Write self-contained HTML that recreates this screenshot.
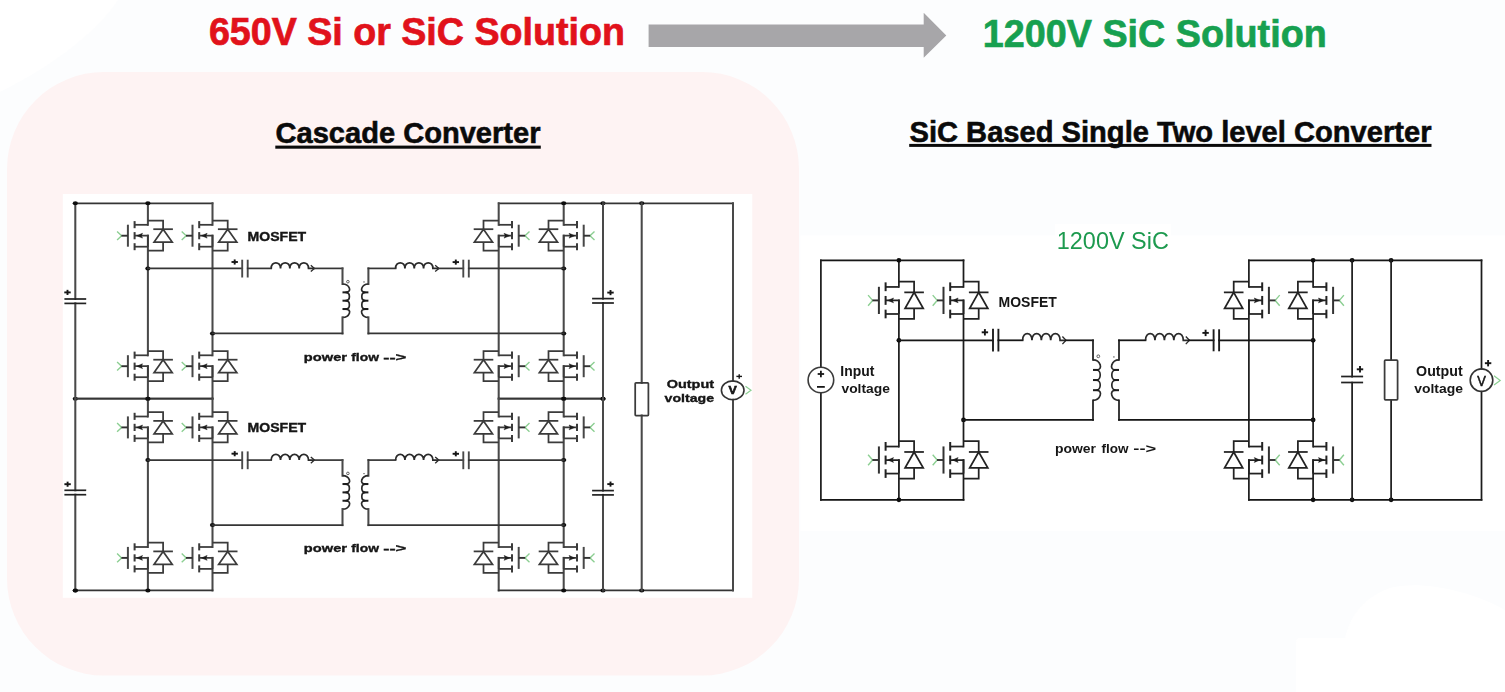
<!DOCTYPE html>
<html><head><meta charset="utf-8"><style>
html,body{margin:0;padding:0;background:#fcfdfe;}
svg{display:block;}
</style></head><body>
<svg width="1505" height="692" viewBox="0 0 1505 692">
<defs><filter id="soft" x="-2%" y="-2%" width="104%" height="104%"><feGaussianBlur stdDeviation="0.35"/></filter></defs>
<rect x="0" y="0" width="1505" height="692" fill="#fcfdfe"/>
<path d="M0,0 L118,0 C100,28 60,62 0,92 Z" fill="#ffffff"/>
<path d="M1296,692 L1296,642 Q1296,638 1300,638 L1345,638 C1350,620 1358,600 1390,588 C1420,580 1470,590 1505,610 L1505,692 Z" fill="#ffffff"/>
<rect x="7" y="72" width="792" height="603.5" rx="97" ry="97" fill="#fef3f3"/>
<rect x="62.8" y="194" width="689.5" height="403.8" fill="#ffffff"/>
<rect x="800.5" y="235.4" width="704.5" height="295.6" fill="#ffffff"/>
<rect x="1055" y="224" width="116" height="28" fill="#ffffff"/>
<text x="208.9" y="45.3" font-family="Liberation Sans" font-size="39.0" font-weight="bold" fill="#e1121b" textLength="416" lengthAdjust="spacingAndGlyphs" stroke="#e1121b" stroke-width="0.7">650V Si or SiC Solution</text>
<text x="982.8" y="47.2" font-family="Liberation Sans" font-size="39.2" font-weight="bold" fill="#17a050" textLength="344" lengthAdjust="spacingAndGlyphs" stroke="#17a050" stroke-width="0.7">1200V SiC Solution</text>
<path d="M648.6,24.5 L923.7,24.5 L923.7,12.8 L946.3,35.5 L923.7,57.8 L923.7,47 L648.6,47 Z" fill="#a7a6a9"/>
<text x="275.5" y="142.9" font-family="Liberation Sans" font-size="30.4" font-weight="bold" fill="#0a0a0a" stroke="#0a0a0a" stroke-width="0.6" textLength="265" lengthAdjust="spacingAndGlyphs">Cascade Converter</text>
<rect x="275.3" y="145.6" width="265.5" height="3.1" fill="#0a0a0a"/>
<text x="909.5" y="141.7" font-family="Liberation Sans" font-size="30.4" font-weight="bold" fill="#0a0a0a" stroke="#0a0a0a" stroke-width="0.6" textLength="522" lengthAdjust="spacingAndGlyphs">SiC Based Single Two level Converter</text>
<rect x="909.2" y="143.9" width="522.3" height="3.0" fill="#0a0a0a"/>
<g id="left" filter="url(#soft)">
<line x1="75.30" y1="203.30" x2="212.50" y2="203.30" stroke="#363636" stroke-width="1.7" stroke-linecap="square"/>
<line x1="498.70" y1="203.30" x2="603.00" y2="203.30" stroke="#363636" stroke-width="1.7" stroke-linecap="square"/>
<line x1="147.90" y1="203.30" x2="147.90" y2="224.80" stroke="#4a4a4a" stroke-width="2.05" stroke-linecap="square"/>
<line x1="147.90" y1="235.70" x2="147.90" y2="355.30" stroke="#4a4a4a" stroke-width="2.05" stroke-linecap="square"/>
<path d="M134.60,224.80 L147.90,224.80" stroke="#3a3a3a" stroke-width="1.75" fill="none" stroke-linejoin="miter"/>
<path d="M134.60,235.70 L147.90,235.70 L147.90,246.70" stroke="#3a3a3a" stroke-width="1.75" fill="none" stroke-linejoin="miter"/>
<path d="M134.60,246.70 L147.90,246.70" stroke="#3a3a3a" stroke-width="1.75" fill="none" stroke-linejoin="miter"/>
<path d="M136.90,235.70 L142.50,233.30 L141.30,235.70 L142.50,238.10 Z" fill="#1a1a1a" stroke="#1a1a1a" stroke-width="0.5" stroke-linejoin="round"/>
<path d="M134.60,221.10 L134.60,228.20" stroke="#3a3a3a" stroke-width="2.0" fill="none" stroke-linejoin="miter"/>
<path d="M134.60,232.10 L134.60,239.30" stroke="#3a3a3a" stroke-width="2.0" fill="none" stroke-linejoin="miter"/>
<path d="M134.60,243.20 L134.60,250.20" stroke="#3a3a3a" stroke-width="2.0" fill="none" stroke-linejoin="miter"/>
<path d="M127.90,224.70 L127.90,246.70" stroke="#474747" stroke-width="2.0" fill="none" stroke-linejoin="miter"/>
<path d="M117.10,231.40 L121.60,235.70 L117.10,240.00" stroke="#8ccf92" stroke-width="1.4" fill="none" stroke-linejoin="miter"/>
<path d="M121.40,235.70 L127.90,235.70" stroke="#333333" stroke-width="1.9" fill="none" stroke-linejoin="miter"/>
<path d="M147.90,220.50 L163.10,220.50 L163.10,229.20" stroke="#3a3a3a" stroke-width="1.75" fill="none" stroke-linejoin="miter"/>
<path d="M153.30,229.20 L172.90,229.20" stroke="#3a3a3a" stroke-width="1.75" fill="none" stroke-linejoin="miter"/>
<path d="M163.10,229.20 L154.10,242.10 L172.20,242.10 Z" stroke="#3a3a3a" stroke-width="1.75" fill="none" stroke-linejoin="miter"/>
<path d="M163.10,242.10 L163.10,250.70 L147.90,250.70" stroke="#3a3a3a" stroke-width="1.75" fill="none" stroke-linejoin="miter"/>
<line x1="212.50" y1="203.30" x2="212.50" y2="224.80" stroke="#4a4a4a" stroke-width="2.05" stroke-linecap="square"/>
<line x1="212.50" y1="235.70" x2="212.50" y2="355.30" stroke="#4a4a4a" stroke-width="2.05" stroke-linecap="square"/>
<path d="M199.20,224.80 L212.50,224.80" stroke="#3a3a3a" stroke-width="1.75" fill="none" stroke-linejoin="miter"/>
<path d="M199.20,235.70 L212.50,235.70 L212.50,246.70" stroke="#3a3a3a" stroke-width="1.75" fill="none" stroke-linejoin="miter"/>
<path d="M199.20,246.70 L212.50,246.70" stroke="#3a3a3a" stroke-width="1.75" fill="none" stroke-linejoin="miter"/>
<path d="M201.50,235.70 L207.10,233.30 L205.90,235.70 L207.10,238.10 Z" fill="#1a1a1a" stroke="#1a1a1a" stroke-width="0.5" stroke-linejoin="round"/>
<path d="M199.20,221.10 L199.20,228.20" stroke="#3a3a3a" stroke-width="2.0" fill="none" stroke-linejoin="miter"/>
<path d="M199.20,232.10 L199.20,239.30" stroke="#3a3a3a" stroke-width="2.0" fill="none" stroke-linejoin="miter"/>
<path d="M199.20,243.20 L199.20,250.20" stroke="#3a3a3a" stroke-width="2.0" fill="none" stroke-linejoin="miter"/>
<path d="M192.50,224.70 L192.50,246.70" stroke="#474747" stroke-width="2.0" fill="none" stroke-linejoin="miter"/>
<path d="M181.70,231.40 L186.20,235.70 L181.70,240.00" stroke="#8ccf92" stroke-width="1.4" fill="none" stroke-linejoin="miter"/>
<path d="M186.00,235.70 L192.50,235.70" stroke="#333333" stroke-width="1.9" fill="none" stroke-linejoin="miter"/>
<path d="M212.50,220.50 L227.70,220.50 L227.70,229.20" stroke="#3a3a3a" stroke-width="1.75" fill="none" stroke-linejoin="miter"/>
<path d="M217.90,229.20 L237.50,229.20" stroke="#3a3a3a" stroke-width="1.75" fill="none" stroke-linejoin="miter"/>
<path d="M227.70,229.20 L218.70,242.10 L236.80,242.10 Z" stroke="#3a3a3a" stroke-width="1.75" fill="none" stroke-linejoin="miter"/>
<path d="M227.70,242.10 L227.70,250.70 L212.50,250.70" stroke="#3a3a3a" stroke-width="1.75" fill="none" stroke-linejoin="miter"/>
<line x1="498.70" y1="203.30" x2="498.70" y2="224.80" stroke="#4a4a4a" stroke-width="2.05" stroke-linecap="square"/>
<line x1="498.70" y1="235.70" x2="498.70" y2="355.30" stroke="#4a4a4a" stroke-width="2.05" stroke-linecap="square"/>
<path d="M512.00,224.80 L498.70,224.80" stroke="#3a3a3a" stroke-width="1.75" fill="none" stroke-linejoin="miter"/>
<path d="M512.00,235.70 L498.70,235.70 L498.70,246.70" stroke="#3a3a3a" stroke-width="1.75" fill="none" stroke-linejoin="miter"/>
<path d="M512.00,246.70 L498.70,246.70" stroke="#3a3a3a" stroke-width="1.75" fill="none" stroke-linejoin="miter"/>
<path d="M509.70,235.70 L504.10,233.30 L505.30,235.70 L504.10,238.10 Z" fill="#1a1a1a" stroke="#1a1a1a" stroke-width="0.5" stroke-linejoin="round"/>
<path d="M512.00,221.10 L512.00,228.20" stroke="#3a3a3a" stroke-width="2.0" fill="none" stroke-linejoin="miter"/>
<path d="M512.00,232.10 L512.00,239.30" stroke="#3a3a3a" stroke-width="2.0" fill="none" stroke-linejoin="miter"/>
<path d="M512.00,243.20 L512.00,250.20" stroke="#3a3a3a" stroke-width="2.0" fill="none" stroke-linejoin="miter"/>
<path d="M518.70,224.70 L518.70,246.70" stroke="#474747" stroke-width="2.0" fill="none" stroke-linejoin="miter"/>
<path d="M529.50,231.40 L525.00,235.70 L529.50,240.00" stroke="#8ccf92" stroke-width="1.4" fill="none" stroke-linejoin="miter"/>
<path d="M525.20,235.70 L518.70,235.70" stroke="#333333" stroke-width="1.9" fill="none" stroke-linejoin="miter"/>
<path d="M498.70,220.50 L483.50,220.50 L483.50,229.20" stroke="#3a3a3a" stroke-width="1.75" fill="none" stroke-linejoin="miter"/>
<path d="M493.30,229.20 L473.70,229.20" stroke="#3a3a3a" stroke-width="1.75" fill="none" stroke-linejoin="miter"/>
<path d="M483.50,229.20 L492.50,242.10 L474.40,242.10 Z" stroke="#3a3a3a" stroke-width="1.75" fill="none" stroke-linejoin="miter"/>
<path d="M483.50,242.10 L483.50,250.70 L498.70,250.70" stroke="#3a3a3a" stroke-width="1.75" fill="none" stroke-linejoin="miter"/>
<line x1="563.70" y1="203.30" x2="563.70" y2="224.80" stroke="#4a4a4a" stroke-width="2.05" stroke-linecap="square"/>
<line x1="563.70" y1="235.70" x2="563.70" y2="355.30" stroke="#4a4a4a" stroke-width="2.05" stroke-linecap="square"/>
<path d="M577.00,224.80 L563.70,224.80" stroke="#3a3a3a" stroke-width="1.75" fill="none" stroke-linejoin="miter"/>
<path d="M577.00,235.70 L563.70,235.70 L563.70,246.70" stroke="#3a3a3a" stroke-width="1.75" fill="none" stroke-linejoin="miter"/>
<path d="M577.00,246.70 L563.70,246.70" stroke="#3a3a3a" stroke-width="1.75" fill="none" stroke-linejoin="miter"/>
<path d="M574.70,235.70 L569.10,233.30 L570.30,235.70 L569.10,238.10 Z" fill="#1a1a1a" stroke="#1a1a1a" stroke-width="0.5" stroke-linejoin="round"/>
<path d="M577.00,221.10 L577.00,228.20" stroke="#3a3a3a" stroke-width="2.0" fill="none" stroke-linejoin="miter"/>
<path d="M577.00,232.10 L577.00,239.30" stroke="#3a3a3a" stroke-width="2.0" fill="none" stroke-linejoin="miter"/>
<path d="M577.00,243.20 L577.00,250.20" stroke="#3a3a3a" stroke-width="2.0" fill="none" stroke-linejoin="miter"/>
<path d="M583.70,224.70 L583.70,246.70" stroke="#474747" stroke-width="2.0" fill="none" stroke-linejoin="miter"/>
<path d="M594.50,231.40 L590.00,235.70 L594.50,240.00" stroke="#8ccf92" stroke-width="1.4" fill="none" stroke-linejoin="miter"/>
<path d="M590.20,235.70 L583.70,235.70" stroke="#333333" stroke-width="1.9" fill="none" stroke-linejoin="miter"/>
<path d="M563.70,220.50 L548.50,220.50 L548.50,229.20" stroke="#3a3a3a" stroke-width="1.75" fill="none" stroke-linejoin="miter"/>
<path d="M558.30,229.20 L538.70,229.20" stroke="#3a3a3a" stroke-width="1.75" fill="none" stroke-linejoin="miter"/>
<path d="M548.50,229.20 L557.50,242.10 L539.40,242.10 Z" stroke="#3a3a3a" stroke-width="1.75" fill="none" stroke-linejoin="miter"/>
<path d="M548.50,242.10 L548.50,250.70 L563.70,250.70" stroke="#3a3a3a" stroke-width="1.75" fill="none" stroke-linejoin="miter"/>
<line x1="147.90" y1="366.20" x2="147.90" y2="398.70" stroke="#4a4a4a" stroke-width="2.05" stroke-linecap="square"/>
<path d="M134.60,355.30 L147.90,355.30" stroke="#3a3a3a" stroke-width="1.75" fill="none" stroke-linejoin="miter"/>
<path d="M134.60,366.20 L147.90,366.20 L147.90,377.20" stroke="#3a3a3a" stroke-width="1.75" fill="none" stroke-linejoin="miter"/>
<path d="M134.60,377.20 L147.90,377.20" stroke="#3a3a3a" stroke-width="1.75" fill="none" stroke-linejoin="miter"/>
<path d="M136.90,366.20 L142.50,363.80 L141.30,366.20 L142.50,368.60 Z" fill="#1a1a1a" stroke="#1a1a1a" stroke-width="0.5" stroke-linejoin="round"/>
<path d="M134.60,351.60 L134.60,358.70" stroke="#3a3a3a" stroke-width="2.0" fill="none" stroke-linejoin="miter"/>
<path d="M134.60,362.60 L134.60,369.80" stroke="#3a3a3a" stroke-width="2.0" fill="none" stroke-linejoin="miter"/>
<path d="M134.60,373.70 L134.60,380.70" stroke="#3a3a3a" stroke-width="2.0" fill="none" stroke-linejoin="miter"/>
<path d="M127.90,355.20 L127.90,377.20" stroke="#474747" stroke-width="2.0" fill="none" stroke-linejoin="miter"/>
<path d="M117.10,361.90 L121.60,366.20 L117.10,370.50" stroke="#8ccf92" stroke-width="1.4" fill="none" stroke-linejoin="miter"/>
<path d="M121.40,366.20 L127.90,366.20" stroke="#333333" stroke-width="1.9" fill="none" stroke-linejoin="miter"/>
<path d="M147.90,351.00 L163.10,351.00 L163.10,359.70" stroke="#3a3a3a" stroke-width="1.75" fill="none" stroke-linejoin="miter"/>
<path d="M153.30,359.70 L172.90,359.70" stroke="#3a3a3a" stroke-width="1.75" fill="none" stroke-linejoin="miter"/>
<path d="M163.10,359.70 L154.10,372.60 L172.20,372.60 Z" stroke="#3a3a3a" stroke-width="1.75" fill="none" stroke-linejoin="miter"/>
<path d="M163.10,372.60 L163.10,381.20 L147.90,381.20" stroke="#3a3a3a" stroke-width="1.75" fill="none" stroke-linejoin="miter"/>
<line x1="212.50" y1="366.20" x2="212.50" y2="398.70" stroke="#4a4a4a" stroke-width="2.05" stroke-linecap="square"/>
<path d="M199.20,355.30 L212.50,355.30" stroke="#3a3a3a" stroke-width="1.75" fill="none" stroke-linejoin="miter"/>
<path d="M199.20,366.20 L212.50,366.20 L212.50,377.20" stroke="#3a3a3a" stroke-width="1.75" fill="none" stroke-linejoin="miter"/>
<path d="M199.20,377.20 L212.50,377.20" stroke="#3a3a3a" stroke-width="1.75" fill="none" stroke-linejoin="miter"/>
<path d="M201.50,366.20 L207.10,363.80 L205.90,366.20 L207.10,368.60 Z" fill="#1a1a1a" stroke="#1a1a1a" stroke-width="0.5" stroke-linejoin="round"/>
<path d="M199.20,351.60 L199.20,358.70" stroke="#3a3a3a" stroke-width="2.0" fill="none" stroke-linejoin="miter"/>
<path d="M199.20,362.60 L199.20,369.80" stroke="#3a3a3a" stroke-width="2.0" fill="none" stroke-linejoin="miter"/>
<path d="M199.20,373.70 L199.20,380.70" stroke="#3a3a3a" stroke-width="2.0" fill="none" stroke-linejoin="miter"/>
<path d="M192.50,355.20 L192.50,377.20" stroke="#474747" stroke-width="2.0" fill="none" stroke-linejoin="miter"/>
<path d="M181.70,361.90 L186.20,366.20 L181.70,370.50" stroke="#8ccf92" stroke-width="1.4" fill="none" stroke-linejoin="miter"/>
<path d="M186.00,366.20 L192.50,366.20" stroke="#333333" stroke-width="1.9" fill="none" stroke-linejoin="miter"/>
<path d="M212.50,351.00 L227.70,351.00 L227.70,359.70" stroke="#3a3a3a" stroke-width="1.75" fill="none" stroke-linejoin="miter"/>
<path d="M217.90,359.70 L237.50,359.70" stroke="#3a3a3a" stroke-width="1.75" fill="none" stroke-linejoin="miter"/>
<path d="M227.70,359.70 L218.70,372.60 L236.80,372.60 Z" stroke="#3a3a3a" stroke-width="1.75" fill="none" stroke-linejoin="miter"/>
<path d="M227.70,372.60 L227.70,381.20 L212.50,381.20" stroke="#3a3a3a" stroke-width="1.75" fill="none" stroke-linejoin="miter"/>
<line x1="498.70" y1="366.20" x2="498.70" y2="398.70" stroke="#4a4a4a" stroke-width="2.05" stroke-linecap="square"/>
<path d="M512.00,355.30 L498.70,355.30" stroke="#3a3a3a" stroke-width="1.75" fill="none" stroke-linejoin="miter"/>
<path d="M512.00,366.20 L498.70,366.20 L498.70,377.20" stroke="#3a3a3a" stroke-width="1.75" fill="none" stroke-linejoin="miter"/>
<path d="M512.00,377.20 L498.70,377.20" stroke="#3a3a3a" stroke-width="1.75" fill="none" stroke-linejoin="miter"/>
<path d="M509.70,366.20 L504.10,363.80 L505.30,366.20 L504.10,368.60 Z" fill="#1a1a1a" stroke="#1a1a1a" stroke-width="0.5" stroke-linejoin="round"/>
<path d="M512.00,351.60 L512.00,358.70" stroke="#3a3a3a" stroke-width="2.0" fill="none" stroke-linejoin="miter"/>
<path d="M512.00,362.60 L512.00,369.80" stroke="#3a3a3a" stroke-width="2.0" fill="none" stroke-linejoin="miter"/>
<path d="M512.00,373.70 L512.00,380.70" stroke="#3a3a3a" stroke-width="2.0" fill="none" stroke-linejoin="miter"/>
<path d="M518.70,355.20 L518.70,377.20" stroke="#474747" stroke-width="2.0" fill="none" stroke-linejoin="miter"/>
<path d="M529.50,361.90 L525.00,366.20 L529.50,370.50" stroke="#8ccf92" stroke-width="1.4" fill="none" stroke-linejoin="miter"/>
<path d="M525.20,366.20 L518.70,366.20" stroke="#333333" stroke-width="1.9" fill="none" stroke-linejoin="miter"/>
<path d="M498.70,351.00 L483.50,351.00 L483.50,359.70" stroke="#3a3a3a" stroke-width="1.75" fill="none" stroke-linejoin="miter"/>
<path d="M493.30,359.70 L473.70,359.70" stroke="#3a3a3a" stroke-width="1.75" fill="none" stroke-linejoin="miter"/>
<path d="M483.50,359.70 L492.50,372.60 L474.40,372.60 Z" stroke="#3a3a3a" stroke-width="1.75" fill="none" stroke-linejoin="miter"/>
<path d="M483.50,372.60 L483.50,381.20 L498.70,381.20" stroke="#3a3a3a" stroke-width="1.75" fill="none" stroke-linejoin="miter"/>
<line x1="563.70" y1="366.20" x2="563.70" y2="398.70" stroke="#4a4a4a" stroke-width="2.05" stroke-linecap="square"/>
<path d="M577.00,355.30 L563.70,355.30" stroke="#3a3a3a" stroke-width="1.75" fill="none" stroke-linejoin="miter"/>
<path d="M577.00,366.20 L563.70,366.20 L563.70,377.20" stroke="#3a3a3a" stroke-width="1.75" fill="none" stroke-linejoin="miter"/>
<path d="M577.00,377.20 L563.70,377.20" stroke="#3a3a3a" stroke-width="1.75" fill="none" stroke-linejoin="miter"/>
<path d="M574.70,366.20 L569.10,363.80 L570.30,366.20 L569.10,368.60 Z" fill="#1a1a1a" stroke="#1a1a1a" stroke-width="0.5" stroke-linejoin="round"/>
<path d="M577.00,351.60 L577.00,358.70" stroke="#3a3a3a" stroke-width="2.0" fill="none" stroke-linejoin="miter"/>
<path d="M577.00,362.60 L577.00,369.80" stroke="#3a3a3a" stroke-width="2.0" fill="none" stroke-linejoin="miter"/>
<path d="M577.00,373.70 L577.00,380.70" stroke="#3a3a3a" stroke-width="2.0" fill="none" stroke-linejoin="miter"/>
<path d="M583.70,355.20 L583.70,377.20" stroke="#474747" stroke-width="2.0" fill="none" stroke-linejoin="miter"/>
<path d="M594.50,361.90 L590.00,366.20 L594.50,370.50" stroke="#8ccf92" stroke-width="1.4" fill="none" stroke-linejoin="miter"/>
<path d="M590.20,366.20 L583.70,366.20" stroke="#333333" stroke-width="1.9" fill="none" stroke-linejoin="miter"/>
<path d="M563.70,351.00 L548.50,351.00 L548.50,359.70" stroke="#3a3a3a" stroke-width="1.75" fill="none" stroke-linejoin="miter"/>
<path d="M558.30,359.70 L538.70,359.70" stroke="#3a3a3a" stroke-width="1.75" fill="none" stroke-linejoin="miter"/>
<path d="M548.50,359.70 L557.50,372.60 L539.40,372.60 Z" stroke="#3a3a3a" stroke-width="1.75" fill="none" stroke-linejoin="miter"/>
<path d="M548.50,372.60 L548.50,381.20 L563.70,381.20" stroke="#3a3a3a" stroke-width="1.75" fill="none" stroke-linejoin="miter"/>
<line x1="75.30" y1="398.70" x2="212.50" y2="398.70" stroke="#363636" stroke-width="1.7" stroke-linecap="square"/>
<line x1="498.70" y1="398.70" x2="603.00" y2="398.70" stroke="#363636" stroke-width="1.7" stroke-linecap="square"/>
<ellipse cx="147.90" cy="203.30" rx="2.6" ry="2.0" fill="#111111"/>
<ellipse cx="563.70" cy="203.30" rx="2.6" ry="2.0" fill="#111111"/>
<ellipse cx="603.00" cy="203.30" rx="2.6" ry="2.0" fill="#111111"/>
<ellipse cx="147.90" cy="268.40" rx="2.6" ry="2.0" fill="#111111"/>
<ellipse cx="212.50" cy="333.40" rx="2.6" ry="2.0" fill="#111111"/>
<ellipse cx="563.70" cy="268.40" rx="2.6" ry="2.0" fill="#111111"/>
<ellipse cx="563.70" cy="333.40" rx="2.6" ry="2.0" fill="#111111"/>
<ellipse cx="147.90" cy="398.70" rx="2.6" ry="2.0" fill="#111111"/>
<ellipse cx="563.70" cy="398.70" rx="2.6" ry="2.0" fill="#111111"/>
<ellipse cx="603.00" cy="398.70" rx="2.6" ry="2.0" fill="#111111"/>
<ellipse cx="75.30" cy="398.70" rx="2.6" ry="2.0" fill="#111111"/>
<line x1="147.90" y1="268.40" x2="242.20" y2="268.40" stroke="#363636" stroke-width="1.7" stroke-linecap="square"/>
<line x1="242.20" y1="259.70" x2="242.20" y2="277.50" stroke="#4a4a4a" stroke-width="1.9" stroke-linecap="butt"/>
<line x1="247.70" y1="259.70" x2="247.70" y2="277.50" stroke="#4a4a4a" stroke-width="1.9" stroke-linecap="butt"/>
<line x1="231.50" y1="262.00" x2="237.90" y2="262.00" stroke="#161616" stroke-width="1.9" stroke-linecap="butt"/>
<line x1="234.70" y1="259.44" x2="234.70" y2="264.56" stroke="#161616" stroke-width="1.9" stroke-linecap="butt"/>
<line x1="247.70" y1="268.40" x2="271.20" y2="268.40" stroke="#363636" stroke-width="1.7" stroke-linecap="square"/>
<path d="M271.20,268.40 C271.01,260.92 280.71,260.92 280.52,268.40 C280.34,260.92 290.04,260.92 289.85,268.40 C289.66,260.92 299.36,260.92 299.18,268.40 C298.99,260.92 308.69,260.92 308.50,268.40 L314.40,268.40" stroke="#2a2a2a" stroke-width="1.75" fill="none"/>
<path d="M310.80,265.30 L314.40,268.40 L310.80,271.50" stroke="#2a2a2a" stroke-width="1.3" fill="none" stroke-linejoin="miter"/>
<line x1="314.40" y1="268.40" x2="342.50" y2="268.40" stroke="#363636" stroke-width="1.7" stroke-linecap="square"/>
<line x1="342.50" y1="268.40" x2="342.50" y2="284.00" stroke="#4a4a4a" stroke-width="2.05" stroke-linecap="square"/>
<path d="M342.50,284.00 C349.70,284.00 352.70,292.35 345.50,292.35 C350.70,292.35 350.70,300.70 345.50,300.70 C350.70,300.70 350.70,309.05 345.50,309.05 C352.70,309.05 349.70,317.40 342.50,317.40" stroke="#2a2a2a" stroke-width="1.7" fill="none"/>
<line x1="343.50" y1="292.35" x2="346.90" y2="292.35" stroke="#1a1a1a" stroke-width="2.0" stroke-linecap="square"/>
<line x1="343.50" y1="300.70" x2="346.90" y2="300.70" stroke="#1a1a1a" stroke-width="2.0" stroke-linecap="square"/>
<line x1="343.50" y1="309.05" x2="346.90" y2="309.05" stroke="#1a1a1a" stroke-width="2.0" stroke-linecap="square"/>
<line x1="342.50" y1="317.40" x2="342.50" y2="333.40" stroke="#4a4a4a" stroke-width="2.05" stroke-linecap="square"/>
<line x1="212.50" y1="333.40" x2="342.50" y2="333.40" stroke="#363636" stroke-width="1.7" stroke-linecap="square"/>
<circle cx="347.9" cy="281.70" r="1.3" fill="none" stroke="#3a3a3a" stroke-width="0.8"/>
<line x1="368.40" y1="268.40" x2="368.40" y2="284.00" stroke="#4a4a4a" stroke-width="2.05" stroke-linecap="square"/>
<path d="M368.40,284.00 C361.60,284.00 358.60,292.35 365.40,292.35 C360.60,292.35 360.60,300.70 365.40,300.70 C360.60,300.70 360.60,309.05 365.40,309.05 C358.60,309.05 361.60,317.40 368.40,317.40" stroke="#2a2a2a" stroke-width="1.7" fill="none"/>
<line x1="367.40" y1="292.35" x2="364.00" y2="292.35" stroke="#1a1a1a" stroke-width="2.0" stroke-linecap="square"/>
<line x1="367.40" y1="300.70" x2="364.00" y2="300.70" stroke="#1a1a1a" stroke-width="2.0" stroke-linecap="square"/>
<line x1="367.40" y1="309.05" x2="364.00" y2="309.05" stroke="#1a1a1a" stroke-width="2.0" stroke-linecap="square"/>
<line x1="368.40" y1="317.40" x2="368.40" y2="333.40" stroke="#4a4a4a" stroke-width="2.05" stroke-linecap="square"/>
<line x1="368.40" y1="333.40" x2="563.70" y2="333.40" stroke="#363636" stroke-width="1.7" stroke-linecap="square"/>
<circle cx="364.00" cy="281.90" r="0.7" fill="#3a3a3a"/>
<line x1="368.40" y1="268.40" x2="395.60" y2="268.40" stroke="#363636" stroke-width="1.7" stroke-linecap="square"/>
<path d="M395.60,268.40 C395.41,260.92 405.11,260.92 404.93,268.40 C404.74,260.92 414.44,260.92 414.25,268.40 C414.06,260.92 423.76,260.92 423.57,268.40 C423.39,260.92 433.09,260.92 432.90,268.40 L438.80,268.40" stroke="#2a2a2a" stroke-width="1.75" fill="none"/>
<path d="M435.20,265.30 L438.80,268.40 L435.20,271.50" stroke="#2a2a2a" stroke-width="1.3" fill="none" stroke-linejoin="miter"/>
<line x1="438.80" y1="268.40" x2="463.30" y2="268.40" stroke="#363636" stroke-width="1.7" stroke-linecap="square"/>
<line x1="463.30" y1="259.70" x2="463.30" y2="277.50" stroke="#4a4a4a" stroke-width="1.9" stroke-linecap="butt"/>
<line x1="468.80" y1="259.70" x2="468.80" y2="277.50" stroke="#4a4a4a" stroke-width="1.9" stroke-linecap="butt"/>
<line x1="452.60" y1="262.10" x2="459.00" y2="262.10" stroke="#161616" stroke-width="1.9" stroke-linecap="butt"/>
<line x1="455.80" y1="259.54" x2="455.80" y2="264.66" stroke="#161616" stroke-width="1.9" stroke-linecap="butt"/>
<line x1="468.80" y1="268.40" x2="563.70" y2="268.40" stroke="#363636" stroke-width="1.7" stroke-linecap="square"/>
<line x1="75.30" y1="398.70" x2="212.50" y2="398.70" stroke="#363636" stroke-width="1.7" stroke-linecap="square"/>
<line x1="498.70" y1="398.70" x2="603.00" y2="398.70" stroke="#363636" stroke-width="1.7" stroke-linecap="square"/>
<line x1="147.90" y1="398.70" x2="147.90" y2="416.50" stroke="#4a4a4a" stroke-width="2.05" stroke-linecap="square"/>
<line x1="147.90" y1="427.40" x2="147.90" y2="547.00" stroke="#4a4a4a" stroke-width="2.05" stroke-linecap="square"/>
<path d="M134.60,416.50 L147.90,416.50" stroke="#3a3a3a" stroke-width="1.75" fill="none" stroke-linejoin="miter"/>
<path d="M134.60,427.40 L147.90,427.40 L147.90,438.40" stroke="#3a3a3a" stroke-width="1.75" fill="none" stroke-linejoin="miter"/>
<path d="M134.60,438.40 L147.90,438.40" stroke="#3a3a3a" stroke-width="1.75" fill="none" stroke-linejoin="miter"/>
<path d="M136.90,427.40 L142.50,425.00 L141.30,427.40 L142.50,429.80 Z" fill="#1a1a1a" stroke="#1a1a1a" stroke-width="0.5" stroke-linejoin="round"/>
<path d="M134.60,412.80 L134.60,419.90" stroke="#3a3a3a" stroke-width="2.0" fill="none" stroke-linejoin="miter"/>
<path d="M134.60,423.80 L134.60,431.00" stroke="#3a3a3a" stroke-width="2.0" fill="none" stroke-linejoin="miter"/>
<path d="M134.60,434.90 L134.60,441.90" stroke="#3a3a3a" stroke-width="2.0" fill="none" stroke-linejoin="miter"/>
<path d="M127.90,416.40 L127.90,438.40" stroke="#474747" stroke-width="2.0" fill="none" stroke-linejoin="miter"/>
<path d="M117.10,423.10 L121.60,427.40 L117.10,431.70" stroke="#8ccf92" stroke-width="1.4" fill="none" stroke-linejoin="miter"/>
<path d="M121.40,427.40 L127.90,427.40" stroke="#333333" stroke-width="1.9" fill="none" stroke-linejoin="miter"/>
<path d="M147.90,412.20 L163.10,412.20 L163.10,420.90" stroke="#3a3a3a" stroke-width="1.75" fill="none" stroke-linejoin="miter"/>
<path d="M153.30,420.90 L172.90,420.90" stroke="#3a3a3a" stroke-width="1.75" fill="none" stroke-linejoin="miter"/>
<path d="M163.10,420.90 L154.10,433.80 L172.20,433.80 Z" stroke="#3a3a3a" stroke-width="1.75" fill="none" stroke-linejoin="miter"/>
<path d="M163.10,433.80 L163.10,442.40 L147.90,442.40" stroke="#3a3a3a" stroke-width="1.75" fill="none" stroke-linejoin="miter"/>
<line x1="212.50" y1="398.70" x2="212.50" y2="416.50" stroke="#4a4a4a" stroke-width="2.05" stroke-linecap="square"/>
<line x1="212.50" y1="427.40" x2="212.50" y2="547.00" stroke="#4a4a4a" stroke-width="2.05" stroke-linecap="square"/>
<path d="M199.20,416.50 L212.50,416.50" stroke="#3a3a3a" stroke-width="1.75" fill="none" stroke-linejoin="miter"/>
<path d="M199.20,427.40 L212.50,427.40 L212.50,438.40" stroke="#3a3a3a" stroke-width="1.75" fill="none" stroke-linejoin="miter"/>
<path d="M199.20,438.40 L212.50,438.40" stroke="#3a3a3a" stroke-width="1.75" fill="none" stroke-linejoin="miter"/>
<path d="M201.50,427.40 L207.10,425.00 L205.90,427.40 L207.10,429.80 Z" fill="#1a1a1a" stroke="#1a1a1a" stroke-width="0.5" stroke-linejoin="round"/>
<path d="M199.20,412.80 L199.20,419.90" stroke="#3a3a3a" stroke-width="2.0" fill="none" stroke-linejoin="miter"/>
<path d="M199.20,423.80 L199.20,431.00" stroke="#3a3a3a" stroke-width="2.0" fill="none" stroke-linejoin="miter"/>
<path d="M199.20,434.90 L199.20,441.90" stroke="#3a3a3a" stroke-width="2.0" fill="none" stroke-linejoin="miter"/>
<path d="M192.50,416.40 L192.50,438.40" stroke="#474747" stroke-width="2.0" fill="none" stroke-linejoin="miter"/>
<path d="M181.70,423.10 L186.20,427.40 L181.70,431.70" stroke="#8ccf92" stroke-width="1.4" fill="none" stroke-linejoin="miter"/>
<path d="M186.00,427.40 L192.50,427.40" stroke="#333333" stroke-width="1.9" fill="none" stroke-linejoin="miter"/>
<path d="M212.50,412.20 L227.70,412.20 L227.70,420.90" stroke="#3a3a3a" stroke-width="1.75" fill="none" stroke-linejoin="miter"/>
<path d="M217.90,420.90 L237.50,420.90" stroke="#3a3a3a" stroke-width="1.75" fill="none" stroke-linejoin="miter"/>
<path d="M227.70,420.90 L218.70,433.80 L236.80,433.80 Z" stroke="#3a3a3a" stroke-width="1.75" fill="none" stroke-linejoin="miter"/>
<path d="M227.70,433.80 L227.70,442.40 L212.50,442.40" stroke="#3a3a3a" stroke-width="1.75" fill="none" stroke-linejoin="miter"/>
<line x1="498.70" y1="398.70" x2="498.70" y2="416.50" stroke="#4a4a4a" stroke-width="2.05" stroke-linecap="square"/>
<line x1="498.70" y1="427.40" x2="498.70" y2="547.00" stroke="#4a4a4a" stroke-width="2.05" stroke-linecap="square"/>
<path d="M512.00,416.50 L498.70,416.50" stroke="#3a3a3a" stroke-width="1.75" fill="none" stroke-linejoin="miter"/>
<path d="M512.00,427.40 L498.70,427.40 L498.70,438.40" stroke="#3a3a3a" stroke-width="1.75" fill="none" stroke-linejoin="miter"/>
<path d="M512.00,438.40 L498.70,438.40" stroke="#3a3a3a" stroke-width="1.75" fill="none" stroke-linejoin="miter"/>
<path d="M509.70,427.40 L504.10,425.00 L505.30,427.40 L504.10,429.80 Z" fill="#1a1a1a" stroke="#1a1a1a" stroke-width="0.5" stroke-linejoin="round"/>
<path d="M512.00,412.80 L512.00,419.90" stroke="#3a3a3a" stroke-width="2.0" fill="none" stroke-linejoin="miter"/>
<path d="M512.00,423.80 L512.00,431.00" stroke="#3a3a3a" stroke-width="2.0" fill="none" stroke-linejoin="miter"/>
<path d="M512.00,434.90 L512.00,441.90" stroke="#3a3a3a" stroke-width="2.0" fill="none" stroke-linejoin="miter"/>
<path d="M518.70,416.40 L518.70,438.40" stroke="#474747" stroke-width="2.0" fill="none" stroke-linejoin="miter"/>
<path d="M529.50,423.10 L525.00,427.40 L529.50,431.70" stroke="#8ccf92" stroke-width="1.4" fill="none" stroke-linejoin="miter"/>
<path d="M525.20,427.40 L518.70,427.40" stroke="#333333" stroke-width="1.9" fill="none" stroke-linejoin="miter"/>
<path d="M498.70,412.20 L483.50,412.20 L483.50,420.90" stroke="#3a3a3a" stroke-width="1.75" fill="none" stroke-linejoin="miter"/>
<path d="M493.30,420.90 L473.70,420.90" stroke="#3a3a3a" stroke-width="1.75" fill="none" stroke-linejoin="miter"/>
<path d="M483.50,420.90 L492.50,433.80 L474.40,433.80 Z" stroke="#3a3a3a" stroke-width="1.75" fill="none" stroke-linejoin="miter"/>
<path d="M483.50,433.80 L483.50,442.40 L498.70,442.40" stroke="#3a3a3a" stroke-width="1.75" fill="none" stroke-linejoin="miter"/>
<line x1="563.70" y1="398.70" x2="563.70" y2="416.50" stroke="#4a4a4a" stroke-width="2.05" stroke-linecap="square"/>
<line x1="563.70" y1="427.40" x2="563.70" y2="547.00" stroke="#4a4a4a" stroke-width="2.05" stroke-linecap="square"/>
<path d="M577.00,416.50 L563.70,416.50" stroke="#3a3a3a" stroke-width="1.75" fill="none" stroke-linejoin="miter"/>
<path d="M577.00,427.40 L563.70,427.40 L563.70,438.40" stroke="#3a3a3a" stroke-width="1.75" fill="none" stroke-linejoin="miter"/>
<path d="M577.00,438.40 L563.70,438.40" stroke="#3a3a3a" stroke-width="1.75" fill="none" stroke-linejoin="miter"/>
<path d="M574.70,427.40 L569.10,425.00 L570.30,427.40 L569.10,429.80 Z" fill="#1a1a1a" stroke="#1a1a1a" stroke-width="0.5" stroke-linejoin="round"/>
<path d="M577.00,412.80 L577.00,419.90" stroke="#3a3a3a" stroke-width="2.0" fill="none" stroke-linejoin="miter"/>
<path d="M577.00,423.80 L577.00,431.00" stroke="#3a3a3a" stroke-width="2.0" fill="none" stroke-linejoin="miter"/>
<path d="M577.00,434.90 L577.00,441.90" stroke="#3a3a3a" stroke-width="2.0" fill="none" stroke-linejoin="miter"/>
<path d="M583.70,416.40 L583.70,438.40" stroke="#474747" stroke-width="2.0" fill="none" stroke-linejoin="miter"/>
<path d="M594.50,423.10 L590.00,427.40 L594.50,431.70" stroke="#8ccf92" stroke-width="1.4" fill="none" stroke-linejoin="miter"/>
<path d="M590.20,427.40 L583.70,427.40" stroke="#333333" stroke-width="1.9" fill="none" stroke-linejoin="miter"/>
<path d="M563.70,412.20 L548.50,412.20 L548.50,420.90" stroke="#3a3a3a" stroke-width="1.75" fill="none" stroke-linejoin="miter"/>
<path d="M558.30,420.90 L538.70,420.90" stroke="#3a3a3a" stroke-width="1.75" fill="none" stroke-linejoin="miter"/>
<path d="M548.50,420.90 L557.50,433.80 L539.40,433.80 Z" stroke="#3a3a3a" stroke-width="1.75" fill="none" stroke-linejoin="miter"/>
<path d="M548.50,433.80 L548.50,442.40 L563.70,442.40" stroke="#3a3a3a" stroke-width="1.75" fill="none" stroke-linejoin="miter"/>
<line x1="147.90" y1="557.90" x2="147.90" y2="590.40" stroke="#4a4a4a" stroke-width="2.05" stroke-linecap="square"/>
<path d="M134.60,547.00 L147.90,547.00" stroke="#3a3a3a" stroke-width="1.75" fill="none" stroke-linejoin="miter"/>
<path d="M134.60,557.90 L147.90,557.90 L147.90,568.90" stroke="#3a3a3a" stroke-width="1.75" fill="none" stroke-linejoin="miter"/>
<path d="M134.60,568.90 L147.90,568.90" stroke="#3a3a3a" stroke-width="1.75" fill="none" stroke-linejoin="miter"/>
<path d="M136.90,557.90 L142.50,555.50 L141.30,557.90 L142.50,560.30 Z" fill="#1a1a1a" stroke="#1a1a1a" stroke-width="0.5" stroke-linejoin="round"/>
<path d="M134.60,543.30 L134.60,550.40" stroke="#3a3a3a" stroke-width="2.0" fill="none" stroke-linejoin="miter"/>
<path d="M134.60,554.30 L134.60,561.50" stroke="#3a3a3a" stroke-width="2.0" fill="none" stroke-linejoin="miter"/>
<path d="M134.60,565.40 L134.60,572.40" stroke="#3a3a3a" stroke-width="2.0" fill="none" stroke-linejoin="miter"/>
<path d="M127.90,546.90 L127.90,568.90" stroke="#474747" stroke-width="2.0" fill="none" stroke-linejoin="miter"/>
<path d="M117.10,553.60 L121.60,557.90 L117.10,562.20" stroke="#8ccf92" stroke-width="1.4" fill="none" stroke-linejoin="miter"/>
<path d="M121.40,557.90 L127.90,557.90" stroke="#333333" stroke-width="1.9" fill="none" stroke-linejoin="miter"/>
<path d="M147.90,542.70 L163.10,542.70 L163.10,551.40" stroke="#3a3a3a" stroke-width="1.75" fill="none" stroke-linejoin="miter"/>
<path d="M153.30,551.40 L172.90,551.40" stroke="#3a3a3a" stroke-width="1.75" fill="none" stroke-linejoin="miter"/>
<path d="M163.10,551.40 L154.10,564.30 L172.20,564.30 Z" stroke="#3a3a3a" stroke-width="1.75" fill="none" stroke-linejoin="miter"/>
<path d="M163.10,564.30 L163.10,572.90 L147.90,572.90" stroke="#3a3a3a" stroke-width="1.75" fill="none" stroke-linejoin="miter"/>
<line x1="212.50" y1="557.90" x2="212.50" y2="590.40" stroke="#4a4a4a" stroke-width="2.05" stroke-linecap="square"/>
<path d="M199.20,547.00 L212.50,547.00" stroke="#3a3a3a" stroke-width="1.75" fill="none" stroke-linejoin="miter"/>
<path d="M199.20,557.90 L212.50,557.90 L212.50,568.90" stroke="#3a3a3a" stroke-width="1.75" fill="none" stroke-linejoin="miter"/>
<path d="M199.20,568.90 L212.50,568.90" stroke="#3a3a3a" stroke-width="1.75" fill="none" stroke-linejoin="miter"/>
<path d="M201.50,557.90 L207.10,555.50 L205.90,557.90 L207.10,560.30 Z" fill="#1a1a1a" stroke="#1a1a1a" stroke-width="0.5" stroke-linejoin="round"/>
<path d="M199.20,543.30 L199.20,550.40" stroke="#3a3a3a" stroke-width="2.0" fill="none" stroke-linejoin="miter"/>
<path d="M199.20,554.30 L199.20,561.50" stroke="#3a3a3a" stroke-width="2.0" fill="none" stroke-linejoin="miter"/>
<path d="M199.20,565.40 L199.20,572.40" stroke="#3a3a3a" stroke-width="2.0" fill="none" stroke-linejoin="miter"/>
<path d="M192.50,546.90 L192.50,568.90" stroke="#474747" stroke-width="2.0" fill="none" stroke-linejoin="miter"/>
<path d="M181.70,553.60 L186.20,557.90 L181.70,562.20" stroke="#8ccf92" stroke-width="1.4" fill="none" stroke-linejoin="miter"/>
<path d="M186.00,557.90 L192.50,557.90" stroke="#333333" stroke-width="1.9" fill="none" stroke-linejoin="miter"/>
<path d="M212.50,542.70 L227.70,542.70 L227.70,551.40" stroke="#3a3a3a" stroke-width="1.75" fill="none" stroke-linejoin="miter"/>
<path d="M217.90,551.40 L237.50,551.40" stroke="#3a3a3a" stroke-width="1.75" fill="none" stroke-linejoin="miter"/>
<path d="M227.70,551.40 L218.70,564.30 L236.80,564.30 Z" stroke="#3a3a3a" stroke-width="1.75" fill="none" stroke-linejoin="miter"/>
<path d="M227.70,564.30 L227.70,572.90 L212.50,572.90" stroke="#3a3a3a" stroke-width="1.75" fill="none" stroke-linejoin="miter"/>
<line x1="498.70" y1="557.90" x2="498.70" y2="590.40" stroke="#4a4a4a" stroke-width="2.05" stroke-linecap="square"/>
<path d="M512.00,547.00 L498.70,547.00" stroke="#3a3a3a" stroke-width="1.75" fill="none" stroke-linejoin="miter"/>
<path d="M512.00,557.90 L498.70,557.90 L498.70,568.90" stroke="#3a3a3a" stroke-width="1.75" fill="none" stroke-linejoin="miter"/>
<path d="M512.00,568.90 L498.70,568.90" stroke="#3a3a3a" stroke-width="1.75" fill="none" stroke-linejoin="miter"/>
<path d="M509.70,557.90 L504.10,555.50 L505.30,557.90 L504.10,560.30 Z" fill="#1a1a1a" stroke="#1a1a1a" stroke-width="0.5" stroke-linejoin="round"/>
<path d="M512.00,543.30 L512.00,550.40" stroke="#3a3a3a" stroke-width="2.0" fill="none" stroke-linejoin="miter"/>
<path d="M512.00,554.30 L512.00,561.50" stroke="#3a3a3a" stroke-width="2.0" fill="none" stroke-linejoin="miter"/>
<path d="M512.00,565.40 L512.00,572.40" stroke="#3a3a3a" stroke-width="2.0" fill="none" stroke-linejoin="miter"/>
<path d="M518.70,546.90 L518.70,568.90" stroke="#474747" stroke-width="2.0" fill="none" stroke-linejoin="miter"/>
<path d="M529.50,553.60 L525.00,557.90 L529.50,562.20" stroke="#8ccf92" stroke-width="1.4" fill="none" stroke-linejoin="miter"/>
<path d="M525.20,557.90 L518.70,557.90" stroke="#333333" stroke-width="1.9" fill="none" stroke-linejoin="miter"/>
<path d="M498.70,542.70 L483.50,542.70 L483.50,551.40" stroke="#3a3a3a" stroke-width="1.75" fill="none" stroke-linejoin="miter"/>
<path d="M493.30,551.40 L473.70,551.40" stroke="#3a3a3a" stroke-width="1.75" fill="none" stroke-linejoin="miter"/>
<path d="M483.50,551.40 L492.50,564.30 L474.40,564.30 Z" stroke="#3a3a3a" stroke-width="1.75" fill="none" stroke-linejoin="miter"/>
<path d="M483.50,564.30 L483.50,572.90 L498.70,572.90" stroke="#3a3a3a" stroke-width="1.75" fill="none" stroke-linejoin="miter"/>
<line x1="563.70" y1="557.90" x2="563.70" y2="590.40" stroke="#4a4a4a" stroke-width="2.05" stroke-linecap="square"/>
<path d="M577.00,547.00 L563.70,547.00" stroke="#3a3a3a" stroke-width="1.75" fill="none" stroke-linejoin="miter"/>
<path d="M577.00,557.90 L563.70,557.90 L563.70,568.90" stroke="#3a3a3a" stroke-width="1.75" fill="none" stroke-linejoin="miter"/>
<path d="M577.00,568.90 L563.70,568.90" stroke="#3a3a3a" stroke-width="1.75" fill="none" stroke-linejoin="miter"/>
<path d="M574.70,557.90 L569.10,555.50 L570.30,557.90 L569.10,560.30 Z" fill="#1a1a1a" stroke="#1a1a1a" stroke-width="0.5" stroke-linejoin="round"/>
<path d="M577.00,543.30 L577.00,550.40" stroke="#3a3a3a" stroke-width="2.0" fill="none" stroke-linejoin="miter"/>
<path d="M577.00,554.30 L577.00,561.50" stroke="#3a3a3a" stroke-width="2.0" fill="none" stroke-linejoin="miter"/>
<path d="M577.00,565.40 L577.00,572.40" stroke="#3a3a3a" stroke-width="2.0" fill="none" stroke-linejoin="miter"/>
<path d="M583.70,546.90 L583.70,568.90" stroke="#474747" stroke-width="2.0" fill="none" stroke-linejoin="miter"/>
<path d="M594.50,553.60 L590.00,557.90 L594.50,562.20" stroke="#8ccf92" stroke-width="1.4" fill="none" stroke-linejoin="miter"/>
<path d="M590.20,557.90 L583.70,557.90" stroke="#333333" stroke-width="1.9" fill="none" stroke-linejoin="miter"/>
<path d="M563.70,542.70 L548.50,542.70 L548.50,551.40" stroke="#3a3a3a" stroke-width="1.75" fill="none" stroke-linejoin="miter"/>
<path d="M558.30,551.40 L538.70,551.40" stroke="#3a3a3a" stroke-width="1.75" fill="none" stroke-linejoin="miter"/>
<path d="M548.50,551.40 L557.50,564.30 L539.40,564.30 Z" stroke="#3a3a3a" stroke-width="1.75" fill="none" stroke-linejoin="miter"/>
<path d="M548.50,564.30 L548.50,572.90 L563.70,572.90" stroke="#3a3a3a" stroke-width="1.75" fill="none" stroke-linejoin="miter"/>
<line x1="75.30" y1="590.40" x2="212.50" y2="590.40" stroke="#363636" stroke-width="1.7" stroke-linecap="square"/>
<line x1="498.70" y1="590.40" x2="603.00" y2="590.40" stroke="#363636" stroke-width="1.7" stroke-linecap="square"/>
<ellipse cx="147.90" cy="398.70" rx="2.6" ry="2.0" fill="#111111"/>
<ellipse cx="563.70" cy="398.70" rx="2.6" ry="2.0" fill="#111111"/>
<ellipse cx="603.00" cy="398.70" rx="2.6" ry="2.0" fill="#111111"/>
<ellipse cx="147.90" cy="460.10" rx="2.6" ry="2.0" fill="#111111"/>
<ellipse cx="212.50" cy="525.10" rx="2.6" ry="2.0" fill="#111111"/>
<ellipse cx="563.70" cy="460.10" rx="2.6" ry="2.0" fill="#111111"/>
<ellipse cx="563.70" cy="525.10" rx="2.6" ry="2.0" fill="#111111"/>
<ellipse cx="147.90" cy="590.40" rx="2.6" ry="2.0" fill="#111111"/>
<ellipse cx="563.70" cy="590.40" rx="2.6" ry="2.0" fill="#111111"/>
<ellipse cx="603.00" cy="590.40" rx="2.6" ry="2.0" fill="#111111"/>
<ellipse cx="75.30" cy="590.40" rx="2.6" ry="2.0" fill="#111111"/>
<line x1="147.90" y1="460.10" x2="242.20" y2="460.10" stroke="#363636" stroke-width="1.7" stroke-linecap="square"/>
<line x1="242.20" y1="451.40" x2="242.20" y2="469.20" stroke="#4a4a4a" stroke-width="1.9" stroke-linecap="butt"/>
<line x1="247.70" y1="451.40" x2="247.70" y2="469.20" stroke="#4a4a4a" stroke-width="1.9" stroke-linecap="butt"/>
<line x1="231.50" y1="453.70" x2="237.90" y2="453.70" stroke="#161616" stroke-width="1.9" stroke-linecap="butt"/>
<line x1="234.70" y1="451.14" x2="234.70" y2="456.26" stroke="#161616" stroke-width="1.9" stroke-linecap="butt"/>
<line x1="247.70" y1="460.10" x2="271.20" y2="460.10" stroke="#363636" stroke-width="1.7" stroke-linecap="square"/>
<path d="M271.20,460.10 C271.01,452.62 280.71,452.62 280.52,460.10 C280.34,452.62 290.04,452.62 289.85,460.10 C289.66,452.62 299.36,452.62 299.18,460.10 C298.99,452.62 308.69,452.62 308.50,460.10 L314.40,460.10" stroke="#2a2a2a" stroke-width="1.75" fill="none"/>
<path d="M310.80,457.00 L314.40,460.10 L310.80,463.20" stroke="#2a2a2a" stroke-width="1.3" fill="none" stroke-linejoin="miter"/>
<line x1="314.40" y1="460.10" x2="342.50" y2="460.10" stroke="#363636" stroke-width="1.7" stroke-linecap="square"/>
<line x1="342.50" y1="460.10" x2="342.50" y2="475.70" stroke="#4a4a4a" stroke-width="2.05" stroke-linecap="square"/>
<path d="M342.50,475.70 C349.70,475.70 352.70,484.05 345.50,484.05 C350.70,484.05 350.70,492.40 345.50,492.40 C350.70,492.40 350.70,500.75 345.50,500.75 C352.70,500.75 349.70,509.10 342.50,509.10" stroke="#2a2a2a" stroke-width="1.7" fill="none"/>
<line x1="343.50" y1="484.05" x2="346.90" y2="484.05" stroke="#1a1a1a" stroke-width="2.0" stroke-linecap="square"/>
<line x1="343.50" y1="492.40" x2="346.90" y2="492.40" stroke="#1a1a1a" stroke-width="2.0" stroke-linecap="square"/>
<line x1="343.50" y1="500.75" x2="346.90" y2="500.75" stroke="#1a1a1a" stroke-width="2.0" stroke-linecap="square"/>
<line x1="342.50" y1="509.10" x2="342.50" y2="525.10" stroke="#4a4a4a" stroke-width="2.05" stroke-linecap="square"/>
<line x1="212.50" y1="525.10" x2="342.50" y2="525.10" stroke="#363636" stroke-width="1.7" stroke-linecap="square"/>
<circle cx="347.9" cy="473.40" r="1.3" fill="none" stroke="#3a3a3a" stroke-width="0.8"/>
<line x1="368.40" y1="460.10" x2="368.40" y2="475.70" stroke="#4a4a4a" stroke-width="2.05" stroke-linecap="square"/>
<path d="M368.40,475.70 C361.60,475.70 358.60,484.05 365.40,484.05 C360.60,484.05 360.60,492.40 365.40,492.40 C360.60,492.40 360.60,500.75 365.40,500.75 C358.60,500.75 361.60,509.10 368.40,509.10" stroke="#2a2a2a" stroke-width="1.7" fill="none"/>
<line x1="367.40" y1="484.05" x2="364.00" y2="484.05" stroke="#1a1a1a" stroke-width="2.0" stroke-linecap="square"/>
<line x1="367.40" y1="492.40" x2="364.00" y2="492.40" stroke="#1a1a1a" stroke-width="2.0" stroke-linecap="square"/>
<line x1="367.40" y1="500.75" x2="364.00" y2="500.75" stroke="#1a1a1a" stroke-width="2.0" stroke-linecap="square"/>
<line x1="368.40" y1="509.10" x2="368.40" y2="525.10" stroke="#4a4a4a" stroke-width="2.05" stroke-linecap="square"/>
<line x1="368.40" y1="525.10" x2="563.70" y2="525.10" stroke="#363636" stroke-width="1.7" stroke-linecap="square"/>
<circle cx="364.00" cy="473.60" r="0.7" fill="#3a3a3a"/>
<line x1="368.40" y1="460.10" x2="395.60" y2="460.10" stroke="#363636" stroke-width="1.7" stroke-linecap="square"/>
<path d="M395.60,460.10 C395.41,452.62 405.11,452.62 404.93,460.10 C404.74,452.62 414.44,452.62 414.25,460.10 C414.06,452.62 423.76,452.62 423.57,460.10 C423.39,452.62 433.09,452.62 432.90,460.10 L438.80,460.10" stroke="#2a2a2a" stroke-width="1.75" fill="none"/>
<path d="M435.20,457.00 L438.80,460.10 L435.20,463.20" stroke="#2a2a2a" stroke-width="1.3" fill="none" stroke-linejoin="miter"/>
<line x1="438.80" y1="460.10" x2="463.30" y2="460.10" stroke="#363636" stroke-width="1.7" stroke-linecap="square"/>
<line x1="463.30" y1="451.40" x2="463.30" y2="469.20" stroke="#4a4a4a" stroke-width="1.9" stroke-linecap="butt"/>
<line x1="468.80" y1="451.40" x2="468.80" y2="469.20" stroke="#4a4a4a" stroke-width="1.9" stroke-linecap="butt"/>
<line x1="452.60" y1="453.80" x2="459.00" y2="453.80" stroke="#161616" stroke-width="1.9" stroke-linecap="butt"/>
<line x1="455.80" y1="451.24" x2="455.80" y2="456.36" stroke="#161616" stroke-width="1.9" stroke-linecap="butt"/>
<line x1="468.80" y1="460.10" x2="563.70" y2="460.10" stroke="#363636" stroke-width="1.7" stroke-linecap="square"/>
<line x1="75.30" y1="203.30" x2="75.30" y2="299.00" stroke="#4a4a4a" stroke-width="2.05" stroke-linecap="square"/>
<line x1="75.30" y1="303.40" x2="75.30" y2="490.30" stroke="#4a4a4a" stroke-width="2.05" stroke-linecap="square"/>
<line x1="75.30" y1="494.70" x2="75.30" y2="590.40" stroke="#4a4a4a" stroke-width="2.05" stroke-linecap="square"/>
<line x1="64.40" y1="299.00" x2="86.20" y2="299.00" stroke="#222" stroke-width="1.7" stroke-linecap="butt"/>
<line x1="64.40" y1="303.40" x2="86.20" y2="303.40" stroke="#222" stroke-width="1.7" stroke-linecap="butt"/>
<line x1="64.30" y1="292.40" x2="70.70" y2="292.40" stroke="#161616" stroke-width="1.9" stroke-linecap="butt"/>
<line x1="67.50" y1="289.84" x2="67.50" y2="294.96" stroke="#161616" stroke-width="1.9" stroke-linecap="butt"/>
<line x1="64.40" y1="490.30" x2="86.20" y2="490.30" stroke="#222" stroke-width="1.7" stroke-linecap="butt"/>
<line x1="64.40" y1="494.70" x2="86.20" y2="494.70" stroke="#222" stroke-width="1.7" stroke-linecap="butt"/>
<line x1="64.40" y1="484.20" x2="70.80" y2="484.20" stroke="#161616" stroke-width="1.9" stroke-linecap="butt"/>
<line x1="67.60" y1="481.64" x2="67.60" y2="486.76" stroke="#161616" stroke-width="1.9" stroke-linecap="butt"/>
<ellipse cx="75.30" cy="203.30" rx="2.6" ry="2.0" fill="#111111"/>
<ellipse cx="75.30" cy="590.40" rx="2.6" ry="2.0" fill="#111111"/>
<line x1="603.00" y1="203.30" x2="603.00" y2="298.60" stroke="#4a4a4a" stroke-width="2.05" stroke-linecap="square"/>
<line x1="603.00" y1="303.00" x2="603.00" y2="490.60" stroke="#4a4a4a" stroke-width="2.05" stroke-linecap="square"/>
<line x1="603.00" y1="494.90" x2="603.00" y2="590.40" stroke="#4a4a4a" stroke-width="2.05" stroke-linecap="square"/>
<line x1="592.10" y1="298.60" x2="613.90" y2="298.60" stroke="#222" stroke-width="1.7" stroke-linecap="butt"/>
<line x1="592.10" y1="303.00" x2="613.90" y2="303.00" stroke="#222" stroke-width="1.7" stroke-linecap="butt"/>
<line x1="607.30" y1="292.60" x2="613.70" y2="292.60" stroke="#161616" stroke-width="1.9" stroke-linecap="butt"/>
<line x1="610.50" y1="290.04" x2="610.50" y2="295.16" stroke="#161616" stroke-width="1.9" stroke-linecap="butt"/>
<line x1="592.10" y1="490.60" x2="613.90" y2="490.60" stroke="#222" stroke-width="1.7" stroke-linecap="butt"/>
<line x1="592.10" y1="494.90" x2="613.90" y2="494.90" stroke="#222" stroke-width="1.7" stroke-linecap="butt"/>
<line x1="607.30" y1="484.10" x2="613.70" y2="484.10" stroke="#161616" stroke-width="1.9" stroke-linecap="butt"/>
<line x1="610.50" y1="481.54" x2="610.50" y2="486.66" stroke="#161616" stroke-width="1.9" stroke-linecap="butt"/>
<line x1="603.00" y1="203.30" x2="733.00" y2="203.30" stroke="#363636" stroke-width="1.7" stroke-linecap="square"/>
<line x1="603.00" y1="590.40" x2="733.00" y2="590.40" stroke="#363636" stroke-width="1.7" stroke-linecap="square"/>
<ellipse cx="641.70" cy="203.30" rx="2.6" ry="2.0" fill="#111111"/>
<ellipse cx="641.70" cy="590.40" rx="2.6" ry="2.0" fill="#111111"/>
<line x1="641.70" y1="203.30" x2="641.70" y2="382.80" stroke="#4a4a4a" stroke-width="2.05" stroke-linecap="square"/>
<line x1="641.70" y1="415.50" x2="641.70" y2="590.40" stroke="#4a4a4a" stroke-width="2.05" stroke-linecap="square"/>
<rect x="635.2" y="382.8" width="13.2" height="32.7" fill="none" stroke="#3a3a3a" stroke-width="1.75" rx="0.8"/>
<line x1="733.00" y1="203.30" x2="733.00" y2="380.90" stroke="#4a4a4a" stroke-width="2.05" stroke-linecap="square"/>
<line x1="733.00" y1="399.70" x2="733.00" y2="590.40" stroke="#4a4a4a" stroke-width="2.05" stroke-linecap="square"/>
<ellipse cx="732.7" cy="390.3" rx="11.3" ry="9.4" fill="none" stroke="#333" stroke-width="1.6"/>
<text x="728.52" y="394.4" font-family="Liberation Sans" font-size="11.19" font-weight="bold" fill="#141414" textLength="8.27" lengthAdjust="spacingAndGlyphs" stroke="#141414" stroke-width="0.6">V</text>
<line x1="736.40" y1="376.40" x2="742.00" y2="376.40" stroke="#161616" stroke-width="1.4" stroke-linecap="butt"/>
<line x1="739.20" y1="374.16" x2="739.20" y2="378.64" stroke="#161616" stroke-width="1.4" stroke-linecap="butt"/>
<path d="M745.50,386.30 L751.00,390.30 L745.50,394.30" stroke="#8ccf92" stroke-width="1.2" fill="none" stroke-linejoin="miter"/>
<text x="666.71" y="387.6" font-family="Liberation Sans" font-size="11.6" font-weight="bold" fill="#141414" textLength="47.37" lengthAdjust="spacingAndGlyphs" stroke="#141414" stroke-width="0.35">Output</text>
<text x="664.64" y="401.7" font-family="Liberation Sans" font-size="11.59" font-weight="bold" fill="#141414" textLength="49.44" lengthAdjust="spacingAndGlyphs" stroke="#141414" stroke-width="0.35">voltage</text>
<text x="247.56" y="240.6" font-family="Liberation Sans" font-size="11.89" font-weight="bold" fill="#141414" textLength="58.59" lengthAdjust="spacingAndGlyphs" stroke="#141414" stroke-width="0.35">MOSFET</text>
<text x="247.56" y="432.3" font-family="Liberation Sans" font-size="11.89" font-weight="bold" fill="#141414" textLength="58.59" lengthAdjust="spacingAndGlyphs" stroke="#141414" stroke-width="0.35">MOSFET</text>
<text x="303.83" y="360.6" font-family="Liberation Sans" font-size="11.4" font-weight="bold" fill="#141414" textLength="43.19" lengthAdjust="spacingAndGlyphs" stroke="#141414" stroke-width="0.35">power</text>
<text x="351.26" y="360.6" font-family="Liberation Sans" font-size="11.4" font-weight="bold" fill="#141414" textLength="27.71" lengthAdjust="spacingAndGlyphs" stroke="#141414" stroke-width="0.35">flow</text>
<text x="383.38" y="360.6" font-family="Liberation Sans" font-size="11.4" font-weight="bold" fill="#141414" textLength="22.96" lengthAdjust="spacingAndGlyphs" stroke="#141414" stroke-width="0.35">--&gt;</text>
<text x="303.83" y="552.3" font-family="Liberation Sans" font-size="11.4" font-weight="bold" fill="#141414" textLength="43.19" lengthAdjust="spacingAndGlyphs" stroke="#141414" stroke-width="0.35">power</text>
<text x="351.26" y="552.3" font-family="Liberation Sans" font-size="11.4" font-weight="bold" fill="#141414" textLength="27.71" lengthAdjust="spacingAndGlyphs" stroke="#141414" stroke-width="0.35">flow</text>
<text x="383.38" y="552.3" font-family="Liberation Sans" font-size="11.4" font-weight="bold" fill="#141414" textLength="22.96" lengthAdjust="spacingAndGlyphs" stroke="#141414" stroke-width="0.35">--&gt;</text>
</g>
<g id="right" filter="url(#soft)">
<line x1="820.90" y1="260.30" x2="963.50" y2="260.30" stroke="#161616" stroke-width="1.75" stroke-linecap="square"/>
<line x1="1248.90" y1="260.30" x2="1481.50" y2="260.30" stroke="#161616" stroke-width="1.75" stroke-linecap="square"/>
<line x1="820.90" y1="499.80" x2="963.50" y2="499.80" stroke="#161616" stroke-width="1.75" stroke-linecap="square"/>
<line x1="1248.90" y1="499.80" x2="1481.50" y2="499.80" stroke="#161616" stroke-width="1.75" stroke-linecap="square"/>
<line x1="898.90" y1="260.30" x2="898.90" y2="286.94" stroke="#1e1e1e" stroke-width="1.75" stroke-linecap="square"/>
<line x1="898.90" y1="300.40" x2="898.90" y2="446.54" stroke="#1e1e1e" stroke-width="1.75" stroke-linecap="square"/>
<path d="M885.60,286.94 L898.90,286.94" stroke="#222222" stroke-width="1.75" fill="none" stroke-linejoin="miter"/>
<path d="M885.60,300.40 L898.90,300.40 L898.90,313.98" stroke="#222222" stroke-width="1.75" fill="none" stroke-linejoin="miter"/>
<path d="M885.60,313.98 L898.90,313.98" stroke="#222222" stroke-width="1.75" fill="none" stroke-linejoin="miter"/>
<path d="M887.90,300.40 L893.50,298.00 L892.30,300.40 L893.50,302.80 Z" fill="#1a1a1a" stroke="#1a1a1a" stroke-width="0.5" stroke-linejoin="round"/>
<path d="M885.60,282.37 L885.60,291.14" stroke="#222222" stroke-width="2.0" fill="none" stroke-linejoin="miter"/>
<path d="M885.60,295.95 L885.60,304.85" stroke="#222222" stroke-width="2.0" fill="none" stroke-linejoin="miter"/>
<path d="M885.60,309.66 L885.60,318.31" stroke="#222222" stroke-width="2.0" fill="none" stroke-linejoin="miter"/>
<path d="M878.90,286.81 L878.90,313.98" stroke="#333333" stroke-width="2.0" fill="none" stroke-linejoin="miter"/>
<path d="M868.10,295.09 L872.60,300.40 L868.10,305.71" stroke="#8ccf92" stroke-width="1.4" fill="none" stroke-linejoin="miter"/>
<path d="M872.40,300.40 L878.90,300.40" stroke="#333333" stroke-width="1.9" fill="none" stroke-linejoin="miter"/>
<path d="M898.90,281.63 L914.10,281.63 L914.10,292.37" stroke="#222222" stroke-width="1.75" fill="none" stroke-linejoin="miter"/>
<path d="M904.30,292.37 L923.90,292.37" stroke="#222222" stroke-width="1.75" fill="none" stroke-linejoin="miter"/>
<path d="M914.10,292.37 L905.10,308.30 L923.20,308.30 Z" stroke="#222222" stroke-width="1.75" fill="none" stroke-linejoin="miter"/>
<path d="M914.10,308.30 L914.10,318.92 L898.90,318.92" stroke="#222222" stroke-width="1.75" fill="none" stroke-linejoin="miter"/>
<line x1="898.90" y1="460.00" x2="898.90" y2="499.80" stroke="#1e1e1e" stroke-width="1.75" stroke-linecap="square"/>
<path d="M885.60,446.54 L898.90,446.54" stroke="#222222" stroke-width="1.75" fill="none" stroke-linejoin="miter"/>
<path d="M885.60,460.00 L898.90,460.00 L898.90,473.58" stroke="#222222" stroke-width="1.75" fill="none" stroke-linejoin="miter"/>
<path d="M885.60,473.58 L898.90,473.58" stroke="#222222" stroke-width="1.75" fill="none" stroke-linejoin="miter"/>
<path d="M887.90,460.00 L893.50,457.60 L892.30,460.00 L893.50,462.40 Z" fill="#1a1a1a" stroke="#1a1a1a" stroke-width="0.5" stroke-linejoin="round"/>
<path d="M885.60,441.97 L885.60,450.74" stroke="#222222" stroke-width="2.0" fill="none" stroke-linejoin="miter"/>
<path d="M885.60,455.55 L885.60,464.45" stroke="#222222" stroke-width="2.0" fill="none" stroke-linejoin="miter"/>
<path d="M885.60,469.26 L885.60,477.91" stroke="#222222" stroke-width="2.0" fill="none" stroke-linejoin="miter"/>
<path d="M878.90,446.42 L878.90,473.58" stroke="#333333" stroke-width="2.0" fill="none" stroke-linejoin="miter"/>
<path d="M868.10,454.69 L872.60,460.00 L868.10,465.31" stroke="#8ccf92" stroke-width="1.4" fill="none" stroke-linejoin="miter"/>
<path d="M872.40,460.00 L878.90,460.00" stroke="#333333" stroke-width="1.9" fill="none" stroke-linejoin="miter"/>
<path d="M898.90,441.23 L914.10,441.23 L914.10,451.97" stroke="#222222" stroke-width="1.75" fill="none" stroke-linejoin="miter"/>
<path d="M904.30,451.97 L923.90,451.97" stroke="#222222" stroke-width="1.75" fill="none" stroke-linejoin="miter"/>
<path d="M914.10,451.97 L905.10,467.90 L923.20,467.90 Z" stroke="#222222" stroke-width="1.75" fill="none" stroke-linejoin="miter"/>
<path d="M914.10,467.90 L914.10,478.52 L898.90,478.52" stroke="#222222" stroke-width="1.75" fill="none" stroke-linejoin="miter"/>
<line x1="963.50" y1="260.30" x2="963.50" y2="286.94" stroke="#1e1e1e" stroke-width="1.75" stroke-linecap="square"/>
<line x1="963.50" y1="300.40" x2="963.50" y2="446.54" stroke="#1e1e1e" stroke-width="1.75" stroke-linecap="square"/>
<path d="M950.20,286.94 L963.50,286.94" stroke="#222222" stroke-width="1.75" fill="none" stroke-linejoin="miter"/>
<path d="M950.20,300.40 L963.50,300.40 L963.50,313.98" stroke="#222222" stroke-width="1.75" fill="none" stroke-linejoin="miter"/>
<path d="M950.20,313.98 L963.50,313.98" stroke="#222222" stroke-width="1.75" fill="none" stroke-linejoin="miter"/>
<path d="M952.50,300.40 L958.10,298.00 L956.90,300.40 L958.10,302.80 Z" fill="#1a1a1a" stroke="#1a1a1a" stroke-width="0.5" stroke-linejoin="round"/>
<path d="M950.20,282.37 L950.20,291.14" stroke="#222222" stroke-width="2.0" fill="none" stroke-linejoin="miter"/>
<path d="M950.20,295.95 L950.20,304.85" stroke="#222222" stroke-width="2.0" fill="none" stroke-linejoin="miter"/>
<path d="M950.20,309.66 L950.20,318.31" stroke="#222222" stroke-width="2.0" fill="none" stroke-linejoin="miter"/>
<path d="M943.50,286.81 L943.50,313.98" stroke="#333333" stroke-width="2.0" fill="none" stroke-linejoin="miter"/>
<path d="M932.70,295.09 L937.20,300.40 L932.70,305.71" stroke="#8ccf92" stroke-width="1.4" fill="none" stroke-linejoin="miter"/>
<path d="M937.00,300.40 L943.50,300.40" stroke="#333333" stroke-width="1.9" fill="none" stroke-linejoin="miter"/>
<path d="M963.50,281.63 L978.70,281.63 L978.70,292.37" stroke="#222222" stroke-width="1.75" fill="none" stroke-linejoin="miter"/>
<path d="M968.90,292.37 L988.50,292.37" stroke="#222222" stroke-width="1.75" fill="none" stroke-linejoin="miter"/>
<path d="M978.70,292.37 L969.70,308.30 L987.80,308.30 Z" stroke="#222222" stroke-width="1.75" fill="none" stroke-linejoin="miter"/>
<path d="M978.70,308.30 L978.70,318.92 L963.50,318.92" stroke="#222222" stroke-width="1.75" fill="none" stroke-linejoin="miter"/>
<line x1="963.50" y1="460.00" x2="963.50" y2="499.80" stroke="#1e1e1e" stroke-width="1.75" stroke-linecap="square"/>
<path d="M950.20,446.54 L963.50,446.54" stroke="#222222" stroke-width="1.75" fill="none" stroke-linejoin="miter"/>
<path d="M950.20,460.00 L963.50,460.00 L963.50,473.58" stroke="#222222" stroke-width="1.75" fill="none" stroke-linejoin="miter"/>
<path d="M950.20,473.58 L963.50,473.58" stroke="#222222" stroke-width="1.75" fill="none" stroke-linejoin="miter"/>
<path d="M952.50,460.00 L958.10,457.60 L956.90,460.00 L958.10,462.40 Z" fill="#1a1a1a" stroke="#1a1a1a" stroke-width="0.5" stroke-linejoin="round"/>
<path d="M950.20,441.97 L950.20,450.74" stroke="#222222" stroke-width="2.0" fill="none" stroke-linejoin="miter"/>
<path d="M950.20,455.55 L950.20,464.45" stroke="#222222" stroke-width="2.0" fill="none" stroke-linejoin="miter"/>
<path d="M950.20,469.26 L950.20,477.91" stroke="#222222" stroke-width="2.0" fill="none" stroke-linejoin="miter"/>
<path d="M943.50,446.42 L943.50,473.58" stroke="#333333" stroke-width="2.0" fill="none" stroke-linejoin="miter"/>
<path d="M932.70,454.69 L937.20,460.00 L932.70,465.31" stroke="#8ccf92" stroke-width="1.4" fill="none" stroke-linejoin="miter"/>
<path d="M937.00,460.00 L943.50,460.00" stroke="#333333" stroke-width="1.9" fill="none" stroke-linejoin="miter"/>
<path d="M963.50,441.23 L978.70,441.23 L978.70,451.97" stroke="#222222" stroke-width="1.75" fill="none" stroke-linejoin="miter"/>
<path d="M968.90,451.97 L988.50,451.97" stroke="#222222" stroke-width="1.75" fill="none" stroke-linejoin="miter"/>
<path d="M978.70,451.97 L969.70,467.90 L987.80,467.90 Z" stroke="#222222" stroke-width="1.75" fill="none" stroke-linejoin="miter"/>
<path d="M978.70,467.90 L978.70,478.52 L963.50,478.52" stroke="#222222" stroke-width="1.75" fill="none" stroke-linejoin="miter"/>
<line x1="1248.90" y1="260.30" x2="1248.90" y2="286.94" stroke="#1e1e1e" stroke-width="1.75" stroke-linecap="square"/>
<line x1="1248.90" y1="300.40" x2="1248.90" y2="446.54" stroke="#1e1e1e" stroke-width="1.75" stroke-linecap="square"/>
<path d="M1262.20,286.94 L1248.90,286.94" stroke="#222222" stroke-width="1.75" fill="none" stroke-linejoin="miter"/>
<path d="M1262.20,300.40 L1248.90,300.40 L1248.90,313.98" stroke="#222222" stroke-width="1.75" fill="none" stroke-linejoin="miter"/>
<path d="M1262.20,313.98 L1248.90,313.98" stroke="#222222" stroke-width="1.75" fill="none" stroke-linejoin="miter"/>
<path d="M1259.90,300.40 L1254.30,298.00 L1255.50,300.40 L1254.30,302.80 Z" fill="#1a1a1a" stroke="#1a1a1a" stroke-width="0.5" stroke-linejoin="round"/>
<path d="M1262.20,282.37 L1262.20,291.14" stroke="#222222" stroke-width="2.0" fill="none" stroke-linejoin="miter"/>
<path d="M1262.20,295.95 L1262.20,304.85" stroke="#222222" stroke-width="2.0" fill="none" stroke-linejoin="miter"/>
<path d="M1262.20,309.66 L1262.20,318.31" stroke="#222222" stroke-width="2.0" fill="none" stroke-linejoin="miter"/>
<path d="M1268.90,286.81 L1268.90,313.98" stroke="#333333" stroke-width="2.0" fill="none" stroke-linejoin="miter"/>
<path d="M1279.70,295.09 L1275.20,300.40 L1279.70,305.71" stroke="#8ccf92" stroke-width="1.4" fill="none" stroke-linejoin="miter"/>
<path d="M1275.40,300.40 L1268.90,300.40" stroke="#333333" stroke-width="1.9" fill="none" stroke-linejoin="miter"/>
<path d="M1248.90,281.63 L1233.70,281.63 L1233.70,292.37" stroke="#222222" stroke-width="1.75" fill="none" stroke-linejoin="miter"/>
<path d="M1243.50,292.37 L1223.90,292.37" stroke="#222222" stroke-width="1.75" fill="none" stroke-linejoin="miter"/>
<path d="M1233.70,292.37 L1242.70,308.30 L1224.60,308.30 Z" stroke="#222222" stroke-width="1.75" fill="none" stroke-linejoin="miter"/>
<path d="M1233.70,308.30 L1233.70,318.92 L1248.90,318.92" stroke="#222222" stroke-width="1.75" fill="none" stroke-linejoin="miter"/>
<line x1="1248.90" y1="460.00" x2="1248.90" y2="499.80" stroke="#1e1e1e" stroke-width="1.75" stroke-linecap="square"/>
<path d="M1262.20,446.54 L1248.90,446.54" stroke="#222222" stroke-width="1.75" fill="none" stroke-linejoin="miter"/>
<path d="M1262.20,460.00 L1248.90,460.00 L1248.90,473.58" stroke="#222222" stroke-width="1.75" fill="none" stroke-linejoin="miter"/>
<path d="M1262.20,473.58 L1248.90,473.58" stroke="#222222" stroke-width="1.75" fill="none" stroke-linejoin="miter"/>
<path d="M1259.90,460.00 L1254.30,457.60 L1255.50,460.00 L1254.30,462.40 Z" fill="#1a1a1a" stroke="#1a1a1a" stroke-width="0.5" stroke-linejoin="round"/>
<path d="M1262.20,441.97 L1262.20,450.74" stroke="#222222" stroke-width="2.0" fill="none" stroke-linejoin="miter"/>
<path d="M1262.20,455.55 L1262.20,464.45" stroke="#222222" stroke-width="2.0" fill="none" stroke-linejoin="miter"/>
<path d="M1262.20,469.26 L1262.20,477.91" stroke="#222222" stroke-width="2.0" fill="none" stroke-linejoin="miter"/>
<path d="M1268.90,446.42 L1268.90,473.58" stroke="#333333" stroke-width="2.0" fill="none" stroke-linejoin="miter"/>
<path d="M1279.70,454.69 L1275.20,460.00 L1279.70,465.31" stroke="#8ccf92" stroke-width="1.4" fill="none" stroke-linejoin="miter"/>
<path d="M1275.40,460.00 L1268.90,460.00" stroke="#333333" stroke-width="1.9" fill="none" stroke-linejoin="miter"/>
<path d="M1248.90,441.23 L1233.70,441.23 L1233.70,451.97" stroke="#222222" stroke-width="1.75" fill="none" stroke-linejoin="miter"/>
<path d="M1243.50,451.97 L1223.90,451.97" stroke="#222222" stroke-width="1.75" fill="none" stroke-linejoin="miter"/>
<path d="M1233.70,451.97 L1242.70,467.90 L1224.60,467.90 Z" stroke="#222222" stroke-width="1.75" fill="none" stroke-linejoin="miter"/>
<path d="M1233.70,467.90 L1233.70,478.52 L1248.90,478.52" stroke="#222222" stroke-width="1.75" fill="none" stroke-linejoin="miter"/>
<line x1="1313.10" y1="260.30" x2="1313.10" y2="286.94" stroke="#1e1e1e" stroke-width="1.75" stroke-linecap="square"/>
<line x1="1313.10" y1="300.40" x2="1313.10" y2="446.54" stroke="#1e1e1e" stroke-width="1.75" stroke-linecap="square"/>
<path d="M1326.40,286.94 L1313.10,286.94" stroke="#222222" stroke-width="1.75" fill="none" stroke-linejoin="miter"/>
<path d="M1326.40,300.40 L1313.10,300.40 L1313.10,313.98" stroke="#222222" stroke-width="1.75" fill="none" stroke-linejoin="miter"/>
<path d="M1326.40,313.98 L1313.10,313.98" stroke="#222222" stroke-width="1.75" fill="none" stroke-linejoin="miter"/>
<path d="M1324.10,300.40 L1318.50,298.00 L1319.70,300.40 L1318.50,302.80 Z" fill="#1a1a1a" stroke="#1a1a1a" stroke-width="0.5" stroke-linejoin="round"/>
<path d="M1326.40,282.37 L1326.40,291.14" stroke="#222222" stroke-width="2.0" fill="none" stroke-linejoin="miter"/>
<path d="M1326.40,295.95 L1326.40,304.85" stroke="#222222" stroke-width="2.0" fill="none" stroke-linejoin="miter"/>
<path d="M1326.40,309.66 L1326.40,318.31" stroke="#222222" stroke-width="2.0" fill="none" stroke-linejoin="miter"/>
<path d="M1333.10,286.81 L1333.10,313.98" stroke="#333333" stroke-width="2.0" fill="none" stroke-linejoin="miter"/>
<path d="M1343.90,295.09 L1339.40,300.40 L1343.90,305.71" stroke="#8ccf92" stroke-width="1.4" fill="none" stroke-linejoin="miter"/>
<path d="M1339.60,300.40 L1333.10,300.40" stroke="#333333" stroke-width="1.9" fill="none" stroke-linejoin="miter"/>
<path d="M1313.10,281.63 L1297.90,281.63 L1297.90,292.37" stroke="#222222" stroke-width="1.75" fill="none" stroke-linejoin="miter"/>
<path d="M1307.70,292.37 L1288.10,292.37" stroke="#222222" stroke-width="1.75" fill="none" stroke-linejoin="miter"/>
<path d="M1297.90,292.37 L1306.90,308.30 L1288.80,308.30 Z" stroke="#222222" stroke-width="1.75" fill="none" stroke-linejoin="miter"/>
<path d="M1297.90,308.30 L1297.90,318.92 L1313.10,318.92" stroke="#222222" stroke-width="1.75" fill="none" stroke-linejoin="miter"/>
<line x1="1313.10" y1="460.00" x2="1313.10" y2="499.80" stroke="#1e1e1e" stroke-width="1.75" stroke-linecap="square"/>
<path d="M1326.40,446.54 L1313.10,446.54" stroke="#222222" stroke-width="1.75" fill="none" stroke-linejoin="miter"/>
<path d="M1326.40,460.00 L1313.10,460.00 L1313.10,473.58" stroke="#222222" stroke-width="1.75" fill="none" stroke-linejoin="miter"/>
<path d="M1326.40,473.58 L1313.10,473.58" stroke="#222222" stroke-width="1.75" fill="none" stroke-linejoin="miter"/>
<path d="M1324.10,460.00 L1318.50,457.60 L1319.70,460.00 L1318.50,462.40 Z" fill="#1a1a1a" stroke="#1a1a1a" stroke-width="0.5" stroke-linejoin="round"/>
<path d="M1326.40,441.97 L1326.40,450.74" stroke="#222222" stroke-width="2.0" fill="none" stroke-linejoin="miter"/>
<path d="M1326.40,455.55 L1326.40,464.45" stroke="#222222" stroke-width="2.0" fill="none" stroke-linejoin="miter"/>
<path d="M1326.40,469.26 L1326.40,477.91" stroke="#222222" stroke-width="2.0" fill="none" stroke-linejoin="miter"/>
<path d="M1333.10,446.42 L1333.10,473.58" stroke="#333333" stroke-width="2.0" fill="none" stroke-linejoin="miter"/>
<path d="M1343.90,454.69 L1339.40,460.00 L1343.90,465.31" stroke="#8ccf92" stroke-width="1.4" fill="none" stroke-linejoin="miter"/>
<path d="M1339.60,460.00 L1333.10,460.00" stroke="#333333" stroke-width="1.9" fill="none" stroke-linejoin="miter"/>
<path d="M1313.10,441.23 L1297.90,441.23 L1297.90,451.97" stroke="#222222" stroke-width="1.75" fill="none" stroke-linejoin="miter"/>
<path d="M1307.70,451.97 L1288.10,451.97" stroke="#222222" stroke-width="1.75" fill="none" stroke-linejoin="miter"/>
<path d="M1297.90,451.97 L1306.90,467.90 L1288.80,467.90 Z" stroke="#222222" stroke-width="1.75" fill="none" stroke-linejoin="miter"/>
<path d="M1297.90,467.90 L1297.90,478.52 L1313.10,478.52" stroke="#222222" stroke-width="1.75" fill="none" stroke-linejoin="miter"/>
<ellipse cx="898.90" cy="260.30" rx="2.4" ry="2.4" fill="#111111"/>
<ellipse cx="898.90" cy="340.30" rx="2.4" ry="2.4" fill="#111111"/>
<ellipse cx="963.50" cy="419.90" rx="2.4" ry="2.4" fill="#111111"/>
<ellipse cx="898.90" cy="499.80" rx="2.4" ry="2.4" fill="#111111"/>
<ellipse cx="1313.10" cy="260.30" rx="2.4" ry="2.4" fill="#111111"/>
<ellipse cx="1352.10" cy="260.30" rx="2.4" ry="2.4" fill="#111111"/>
<ellipse cx="1391.10" cy="260.30" rx="2.4" ry="2.4" fill="#111111"/>
<ellipse cx="1313.10" cy="340.30" rx="2.4" ry="2.4" fill="#111111"/>
<ellipse cx="1313.10" cy="419.90" rx="2.4" ry="2.4" fill="#111111"/>
<ellipse cx="1313.10" cy="499.80" rx="2.4" ry="2.4" fill="#111111"/>
<ellipse cx="1352.10" cy="499.80" rx="2.4" ry="2.4" fill="#111111"/>
<ellipse cx="1391.10" cy="499.80" rx="2.4" ry="2.4" fill="#111111"/>
<line x1="820.90" y1="260.30" x2="820.90" y2="367.20" stroke="#1e1e1e" stroke-width="1.75" stroke-linecap="square"/>
<line x1="820.90" y1="392.80" x2="820.90" y2="499.80" stroke="#1e1e1e" stroke-width="1.75" stroke-linecap="square"/>
<circle cx="820.9" cy="380.0" r="12.8" fill="none" stroke="#3a3a3a" stroke-width="1.6"/>
<line x1="817.70" y1="374.00" x2="824.10" y2="374.00" stroke="#161616" stroke-width="1.8" stroke-linecap="butt"/>
<line x1="820.90" y1="370.80" x2="820.90" y2="377.20" stroke="#161616" stroke-width="1.8" stroke-linecap="butt"/>
<line x1="817.90" y1="386.90" x2="823.90" y2="386.90" stroke="#161616" stroke-width="1.8" stroke-linecap="square"/>
<text x="840.27" y="376.3" font-family="Liberation Sans" font-size="14.1" font-weight="bold" fill="#141414" textLength="34.0" lengthAdjust="spacingAndGlyphs">Input</text>
<text x="841.45" y="393.2" font-family="Liberation Sans" font-size="13.25" font-weight="bold" fill="#141414" textLength="48.43" lengthAdjust="spacingAndGlyphs">voltage</text>
<line x1="898.90" y1="340.30" x2="993.00" y2="340.30" stroke="#161616" stroke-width="1.75" stroke-linecap="square"/>
<line x1="993.00" y1="328.80" x2="993.00" y2="351.50" stroke="#1e1e1e" stroke-width="1.9" stroke-linecap="butt"/>
<line x1="998.40" y1="328.80" x2="998.40" y2="351.50" stroke="#1e1e1e" stroke-width="1.9" stroke-linecap="butt"/>
<line x1="981.70" y1="332.30" x2="988.10" y2="332.30" stroke="#161616" stroke-width="1.9" stroke-linecap="butt"/>
<line x1="984.90" y1="329.10" x2="984.90" y2="335.50" stroke="#161616" stroke-width="1.9" stroke-linecap="butt"/>
<line x1="998.40" y1="340.30" x2="1022.60" y2="340.30" stroke="#161616" stroke-width="1.75" stroke-linecap="square"/>
<path d="M1022.60,340.30 C1022.41,331.32 1032.16,331.32 1031.97,340.30 C1031.79,331.32 1041.54,331.32 1041.35,340.30 C1041.16,331.32 1050.91,331.32 1050.72,340.30 C1050.54,331.32 1060.29,331.32 1060.10,340.30 L1066.00,340.30" stroke="#2a2a2a" stroke-width="1.75" fill="none"/>
<path d="M1062.40,336.50 L1066.00,340.30 L1062.40,344.10" stroke="#2a2a2a" stroke-width="1.3" fill="none" stroke-linejoin="miter"/>
<line x1="1066.00" y1="340.30" x2="1093.00" y2="340.30" stroke="#161616" stroke-width="1.75" stroke-linecap="square"/>
<line x1="1093.00" y1="340.30" x2="1093.00" y2="359.80" stroke="#1e1e1e" stroke-width="1.75" stroke-linecap="square"/>
<path d="M1093.00,359.80 C1100.40,359.80 1103.70,369.93 1096.30,369.93 C1101.50,369.93 1101.50,380.05 1096.30,380.05 C1101.50,380.05 1101.50,390.18 1096.30,390.18 C1103.70,390.18 1100.40,400.30 1093.00,400.30" stroke="#2a2a2a" stroke-width="1.7" fill="none"/>
<line x1="1094.00" y1="369.93" x2="1097.40" y2="369.93" stroke="#1a1a1a" stroke-width="2.0" stroke-linecap="square"/>
<line x1="1094.00" y1="380.05" x2="1097.40" y2="380.05" stroke="#1a1a1a" stroke-width="2.0" stroke-linecap="square"/>
<line x1="1094.00" y1="390.18" x2="1097.40" y2="390.18" stroke="#1a1a1a" stroke-width="2.0" stroke-linecap="square"/>
<line x1="1093.00" y1="400.30" x2="1093.00" y2="419.90" stroke="#1e1e1e" stroke-width="1.75" stroke-linecap="square"/>
<line x1="963.50" y1="419.90" x2="1093.00" y2="419.90" stroke="#161616" stroke-width="1.75" stroke-linecap="square"/>
<circle cx="1098.3" cy="356.3" r="1.4" fill="none" stroke="#3a3a3a" stroke-width="0.8"/>
<line x1="1119.00" y1="340.30" x2="1119.00" y2="359.80" stroke="#1e1e1e" stroke-width="1.75" stroke-linecap="square"/>
<path d="M1119.00,359.80 C1111.60,359.80 1108.30,369.93 1115.70,369.93 C1110.50,369.93 1110.50,380.05 1115.70,380.05 C1110.50,380.05 1110.50,390.18 1115.70,390.18 C1108.30,390.18 1111.60,400.30 1119.00,400.30" stroke="#2a2a2a" stroke-width="1.7" fill="none"/>
<line x1="1118.00" y1="369.93" x2="1114.60" y2="369.93" stroke="#1a1a1a" stroke-width="2.0" stroke-linecap="square"/>
<line x1="1118.00" y1="380.05" x2="1114.60" y2="380.05" stroke="#1a1a1a" stroke-width="2.0" stroke-linecap="square"/>
<line x1="1118.00" y1="390.18" x2="1114.60" y2="390.18" stroke="#1a1a1a" stroke-width="2.0" stroke-linecap="square"/>
<line x1="1119.00" y1="400.30" x2="1119.00" y2="419.90" stroke="#1e1e1e" stroke-width="1.75" stroke-linecap="square"/>
<line x1="1119.00" y1="419.90" x2="1313.10" y2="419.90" stroke="#161616" stroke-width="1.75" stroke-linecap="square"/>
<circle cx="1113.90" cy="356.90" r="0.7" fill="#3a3a3a"/>
<line x1="1119.00" y1="340.30" x2="1145.50" y2="340.30" stroke="#161616" stroke-width="1.75" stroke-linecap="square"/>
<path d="M1145.50,340.30 C1145.31,331.32 1155.14,331.32 1154.95,340.30 C1154.76,331.32 1164.59,331.32 1164.40,340.30 C1164.21,331.32 1174.04,331.32 1173.85,340.30 C1173.66,331.32 1183.49,331.32 1183.30,340.30 L1189.40,340.30" stroke="#2a2a2a" stroke-width="1.75" fill="none"/>
<path d="M1185.80,336.50 L1189.40,340.30 L1185.80,344.10" stroke="#2a2a2a" stroke-width="1.3" fill="none" stroke-linejoin="miter"/>
<line x1="1189.40" y1="340.30" x2="1213.60" y2="340.30" stroke="#161616" stroke-width="1.75" stroke-linecap="square"/>
<line x1="1213.60" y1="329.30" x2="1213.60" y2="351.30" stroke="#1e1e1e" stroke-width="1.9" stroke-linecap="butt"/>
<line x1="1219.10" y1="329.30" x2="1219.10" y2="351.30" stroke="#1e1e1e" stroke-width="1.9" stroke-linecap="butt"/>
<line x1="1202.40" y1="332.90" x2="1208.80" y2="332.90" stroke="#161616" stroke-width="1.9" stroke-linecap="butt"/>
<line x1="1205.60" y1="329.70" x2="1205.60" y2="336.10" stroke="#161616" stroke-width="1.9" stroke-linecap="butt"/>
<line x1="1219.10" y1="340.30" x2="1313.10" y2="340.30" stroke="#161616" stroke-width="1.75" stroke-linecap="square"/>
<line x1="1352.10" y1="260.30" x2="1352.10" y2="376.50" stroke="#1e1e1e" stroke-width="1.75" stroke-linecap="square"/>
<line x1="1352.10" y1="382.50" x2="1352.10" y2="499.80" stroke="#1e1e1e" stroke-width="1.75" stroke-linecap="square"/>
<line x1="1341.10" y1="376.50" x2="1363.10" y2="376.50" stroke="#222" stroke-width="1.7" stroke-linecap="butt"/>
<line x1="1341.10" y1="382.50" x2="1363.10" y2="382.50" stroke="#222" stroke-width="1.7" stroke-linecap="butt"/>
<line x1="1356.80" y1="369.30" x2="1363.20" y2="369.30" stroke="#161616" stroke-width="1.9" stroke-linecap="butt"/>
<line x1="1360.00" y1="366.10" x2="1360.00" y2="372.50" stroke="#161616" stroke-width="1.9" stroke-linecap="butt"/>
<line x1="1391.10" y1="260.30" x2="1391.10" y2="360.10" stroke="#1e1e1e" stroke-width="1.75" stroke-linecap="square"/>
<line x1="1391.10" y1="399.90" x2="1391.10" y2="499.80" stroke="#1e1e1e" stroke-width="1.75" stroke-linecap="square"/>
<rect x="1384.6" y="360.1" width="13.0" height="39.8" fill="none" stroke="#3a3a3a" stroke-width="1.75" rx="0.8"/>
<line x1="1481.50" y1="260.30" x2="1481.50" y2="368.90" stroke="#1e1e1e" stroke-width="1.75" stroke-linecap="square"/>
<line x1="1481.50" y1="391.50" x2="1481.50" y2="499.80" stroke="#1e1e1e" stroke-width="1.75" stroke-linecap="square"/>
<circle cx="1481.5" cy="380.2" r="11.3" fill="none" stroke="#333" stroke-width="1.6"/>
<text x="1477.14" y="385.6" font-family="Liberation Sans" font-size="13.95" font-weight="normal" fill="#141414" textLength="8.61" lengthAdjust="spacingAndGlyphs" stroke="#141414" stroke-width="0.55">V</text>
<line x1="1484.90" y1="363.20" x2="1491.30" y2="363.20" stroke="#161616" stroke-width="1.9" stroke-linecap="butt"/>
<line x1="1488.10" y1="360.00" x2="1488.10" y2="366.40" stroke="#161616" stroke-width="1.9" stroke-linecap="butt"/>
<path d="M1494.00,375.80 L1500.20,380.40 L1494.00,385.00" stroke="#8ccf92" stroke-width="1.2" fill="none" stroke-linejoin="miter"/>
<text x="1416.12" y="376.3" font-family="Liberation Sans" font-size="14.04" font-weight="bold" fill="#141414" textLength="46.56" lengthAdjust="spacingAndGlyphs">Output</text>
<text x="1414.25" y="392.7" font-family="Liberation Sans" font-size="13.52" font-weight="bold" fill="#141414" textLength="48.73" lengthAdjust="spacingAndGlyphs">voltage</text>
<text x="998.56" y="306.5" font-family="Liberation Sans" font-size="15.18" font-weight="bold" fill="#141414" textLength="58.29" lengthAdjust="spacingAndGlyphs">MOSFET</text>
<text x="1054.88" y="452.9" font-family="Liberation Sans" font-size="13.7" font-weight="bold" fill="#141414" textLength="41.03" lengthAdjust="spacingAndGlyphs">power</text>
<text x="1101.57" y="452.9" font-family="Liberation Sans" font-size="13.7" font-weight="bold" fill="#141414" textLength="27.0" lengthAdjust="spacingAndGlyphs">flow</text>
<text x="1133.38" y="452.9" font-family="Liberation Sans" font-size="13.7" font-weight="bold" fill="#141414" textLength="22.96" lengthAdjust="spacingAndGlyphs">--&gt;</text>
<text x="1056.8" y="248.7" font-family="Liberation Sans" font-size="23.6" font-weight="normal" fill="#1f9a4f" text-anchor="start" textLength="112.0" lengthAdjust="spacingAndGlyphs">1200V SiC</text>
</g>
</svg>
</body></html>
